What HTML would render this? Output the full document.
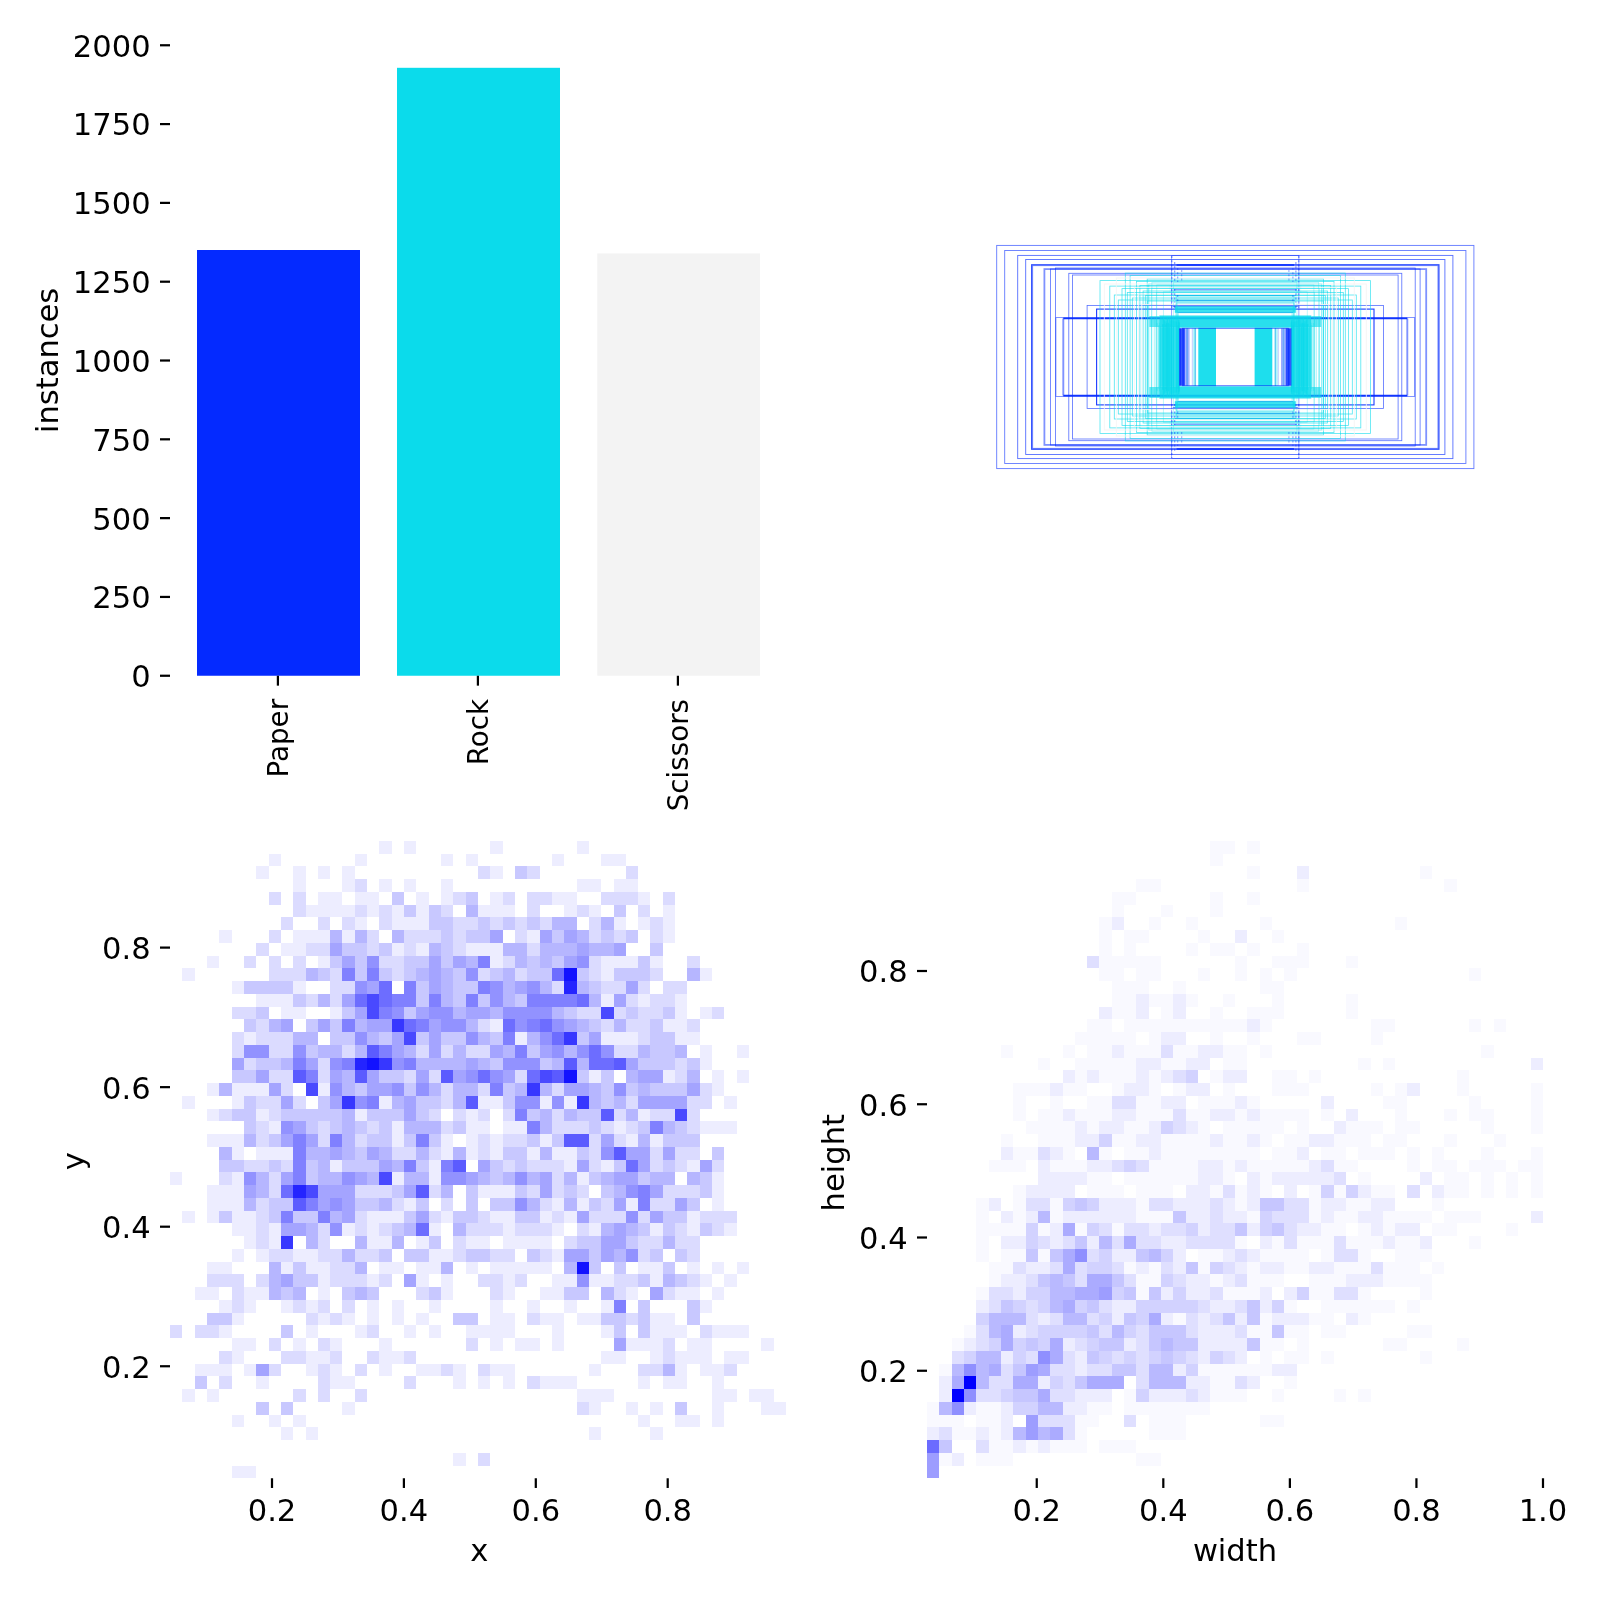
<!DOCTYPE html>
<html lang="en"><head><meta charset="utf-8"><title>labels</title>
<style>html,body{margin:0;padding:0;background:#fff;width:1600px;height:1600px;overflow:hidden}svg{display:block;will-change:transform}text{font-family:"DejaVu Sans", "Liberation Sans", sans-serif;font-size:30.56px;fill:#000}</style></head><body>
<svg width="1600" height="1600" viewBox="0 0 1600 1600">
<rect width="1600" height="1600" fill="#fff"/>
<rect x="197.0" y="250.0" width="163.0" height="425.75" fill="#042aff"/>
<rect x="397.0" y="67.8" width="163.0" height="607.95" fill="#0bdbeb"/>
<rect x="597.3" y="253.4" width="162.7" height="422.35" fill="#f3f3f3"/>
<path d="M160.00 675.75H170.00" stroke="#000" stroke-width="2.22"/>
<text x="150.60" y="687.15" text-anchor="end">0</text>
<path d="M160.00 596.94H170.00" stroke="#000" stroke-width="2.22"/>
<text x="150.60" y="608.34" text-anchor="end">250</text>
<path d="M160.00 518.13H170.00" stroke="#000" stroke-width="2.22"/>
<text x="150.60" y="529.53" text-anchor="end">500</text>
<path d="M160.00 439.32H170.00" stroke="#000" stroke-width="2.22"/>
<text x="150.60" y="450.72" text-anchor="end">750</text>
<path d="M160.00 360.51H170.00" stroke="#000" stroke-width="2.22"/>
<text x="150.60" y="371.91" text-anchor="end">1000</text>
<path d="M160.00 281.70H170.00" stroke="#000" stroke-width="2.22"/>
<text x="150.60" y="293.10" text-anchor="end">1250</text>
<path d="M160.00 202.89H170.00" stroke="#000" stroke-width="2.22"/>
<text x="150.60" y="214.29" text-anchor="end">1500</text>
<path d="M160.00 124.08H170.00" stroke="#000" stroke-width="2.22"/>
<text x="150.60" y="135.48" text-anchor="end">1750</text>
<path d="M160.00 45.27H170.00" stroke="#000" stroke-width="2.22"/>
<text x="150.60" y="56.67" text-anchor="end">2000</text>
<path d="M277.90 675.75V685.65" stroke="#000" stroke-width="2.22"/>
<text x="288.20" y="698.90" text-anchor="end" transform="rotate(-90 288.20 698.90)" style="font-size:27.78px">Paper</text>
<path d="M477.90 675.75V685.65" stroke="#000" stroke-width="2.22"/>
<text x="488.20" y="698.90" text-anchor="end" transform="rotate(-90 488.20 698.90)" style="font-size:27.78px">Rock</text>
<path d="M677.90 675.75V685.65" stroke="#000" stroke-width="2.22"/>
<text x="688.20" y="698.90" text-anchor="end" transform="rotate(-90 688.20 698.90)" style="font-size:27.78px">Scissors</text>
<text x="58.00" y="360.40" text-anchor="middle" transform="rotate(-90 58.00 360.40)">instances</text>
<g fill="none">
<rect x="996.7" y="245.4" width="477.2" height="223.2" stroke="#042aff" stroke-width="0.9" stroke-opacity="0.63"/>
<rect x="1004.7" y="250.5" width="461.2" height="213.0" stroke="#042aff" stroke-width="0.9" stroke-opacity="0.63"/>
<rect x="1017.7" y="255.4" width="435.2" height="203.2" stroke="#042aff" stroke-width="0.9" stroke-opacity="0.68"/>
<rect x="1025.7" y="259.5" width="419.2" height="195.0" stroke="#042aff" stroke-width="0.9" stroke-opacity="0.68"/>
<rect x="1031.7" y="264.8" width="407.2" height="184.4" stroke="#042aff" stroke-width="1.3" stroke-opacity="0.83"/>
<rect x="1032.7" y="265.7" width="405.2" height="182.6" stroke="#042aff" stroke-width="0.8" stroke-opacity="0.58"/>
<rect x="1044.4" y="269.1" width="381.8" height="175.8" stroke="#042aff" stroke-width="1.8" stroke-opacity="0.51"/>
<rect x="1050.5" y="269.0" width="369.6" height="176.0" stroke="#042aff" stroke-width="0.8" stroke-opacity="0.68"/>
<rect x="1055.4" y="268.0" width="359.8" height="178.0" stroke="#042aff" stroke-width="0.8" stroke-opacity="0.68"/>
<rect x="1068.8" y="273.3" width="333.0" height="167.4" stroke="#042aff" stroke-width="0.8" stroke-opacity="0.68"/>
<rect x="1072.5" y="275.0" width="325.6" height="164.0" stroke="#042aff" stroke-width="0.8" stroke-opacity="0.68"/>
<rect x="1087.1" y="305.4" width="296.4" height="103.2" stroke="#042aff" stroke-width="0.8" stroke-opacity="0.68"/>
<rect x="1096.6" y="309.1" width="277.4" height="95.8" stroke="#042aff" stroke-width="1.1" stroke-opacity="0.91"/>
<rect x="1055.9" y="317.6" width="358.8" height="78.8" stroke="#042aff" stroke-width="0.8" stroke-opacity="0.63"/>
<path d="M1063.3 318.4H1407.3" stroke="#042aff" stroke-width="1.7" stroke-opacity="0.95"/>
<path d="M1063.3 395.6H1407.3" stroke="#042aff" stroke-width="1.7" stroke-opacity="0.95"/>
<path d="M1063.3 318.4V395.6" stroke="#042aff" stroke-width="1.9" stroke-opacity="0.51"/>
<path d="M1407.3 318.4V395.6" stroke="#042aff" stroke-width="1.9" stroke-opacity="0.51"/>
<rect x="1171.7" y="255.4" width="127.2" height="203.2" stroke="#042aff" stroke-width="0.7" stroke-opacity="0.58"/>
<path d="M1176.6 265.0H1294.0" stroke="#042aff" stroke-width="1.8" stroke-opacity="0.73"/>
<path d="M1176.6 449.0H1294.0" stroke="#042aff" stroke-width="1.8" stroke-opacity="0.73"/>
<path d="M1173.8 289.8H1296.8" stroke="#042aff" stroke-width="0.9" stroke-opacity="0.73"/>
<path d="M1173.8 424.2H1296.8" stroke="#042aff" stroke-width="0.9" stroke-opacity="0.73"/>
<path d="M1174.8 295.5H1295.8" stroke="#042aff" stroke-width="0.9" stroke-opacity="0.73"/>
<path d="M1174.8 418.5H1295.8" stroke="#042aff" stroke-width="0.9" stroke-opacity="0.73"/>
<path d="M1175.8 300.4H1294.8" stroke="#042aff" stroke-width="0.9" stroke-opacity="0.73"/>
<path d="M1175.8 413.6H1294.8" stroke="#042aff" stroke-width="0.9" stroke-opacity="0.73"/>
<path d="M1172.8 306.4H1297.8" stroke="#042aff" stroke-width="0.9" stroke-opacity="0.73"/>
<path d="M1172.8 407.6H1297.8" stroke="#042aff" stroke-width="0.9" stroke-opacity="0.73"/>
<path d="M1177.5 312.4H1293.1" stroke="#042aff" stroke-width="0.9" stroke-opacity="0.73"/>
<path d="M1177.5 401.6H1293.1" stroke="#042aff" stroke-width="0.9" stroke-opacity="0.73"/>
<rect x="1100.0" y="280.6" width="270.6" height="152.8" stroke="#0bdbeb" stroke-width="0.8" stroke-opacity="0.72"/>
<rect x="1109.8" y="286.1" width="251.0" height="141.8" stroke="#0bdbeb" stroke-width="0.8" stroke-opacity="0.72"/>
<rect x="1122.0" y="288.6" width="226.6" height="136.8" stroke="#0bdbeb" stroke-width="0.8" stroke-opacity="0.72"/>
<rect x="1125.3" y="273.1" width="220.0" height="167.8" stroke="#0bdbeb" stroke-width="0.8" stroke-opacity="0.72"/>
<rect x="1130.1" y="275.6" width="210.4" height="162.8" stroke="#0bdbeb" stroke-width="0.8" stroke-opacity="0.72"/>
<rect x="1136.6" y="281.4" width="197.4" height="151.2" stroke="#0bdbeb" stroke-width="0.8" stroke-opacity="0.72"/>
<rect x="1139.9" y="285.4" width="190.8" height="143.2" stroke="#0bdbeb" stroke-width="0.8" stroke-opacity="0.72"/>
<rect x="1114.3" y="295.0" width="242.0" height="124.0" stroke="#0bdbeb" stroke-width="0.8" stroke-opacity="0.72"/>
<rect x="1118.3" y="300.0" width="234.0" height="114.0" stroke="#0bdbeb" stroke-width="0.8" stroke-opacity="0.72"/>
<rect x="1127.3" y="292.5" width="216.0" height="129.0" stroke="#0bdbeb" stroke-width="0.8" stroke-opacity="0.72"/>
<rect x="1132.3" y="298.0" width="206.0" height="118.0" stroke="#0bdbeb" stroke-width="0.8" stroke-opacity="0.72"/>
<rect x="1143.1" y="291.0" width="184.4" height="132.0" stroke="#0bdbeb" stroke-width="0.8" stroke-opacity="0.72"/>
<rect x="1147.2" y="279.0" width="176.2" height="156.0" stroke="#0bdbeb" stroke-width="0.8" stroke-opacity="0.72"/>
<rect x="1145.3" y="295.5" width="180.0" height="123.0" stroke="#0bdbeb" stroke-width="0.8" stroke-opacity="0.72"/>
<rect x="1147.3" y="301.0" width="176.0" height="112.0" stroke="#0bdbeb" stroke-width="0.8" stroke-opacity="0.72"/>
<rect x="1148.8" y="284.0" width="173.0" height="146.0" stroke="#0bdbeb" stroke-width="0.8" stroke-opacity="0.72"/>
<rect x="1104.3" y="284.0" width="262.0" height="146.0" stroke="#f3f3f3" stroke-width="0.9" stroke-opacity="0.9"/>
<rect x="1116.3" y="278.0" width="238.0" height="158.0" stroke="#f3f3f3" stroke-width="0.9" stroke-opacity="0.9"/>
<rect x="1134.3" y="287.5" width="202.0" height="139.0" stroke="#f3f3f3" stroke-width="0.9" stroke-opacity="0.9"/>
<rect x="1138.3" y="294.0" width="194.0" height="126.0" stroke="#f3f3f3" stroke-width="0.9" stroke-opacity="0.9"/>
<rect x="1141.8" y="304.5" width="187.0" height="105.0" stroke="#f3f3f3" stroke-width="0.9" stroke-opacity="0.9"/>
<rect x="1159.3" y="315.5" width="152.0" height="12.2" fill="#0bdbeb" fill-opacity="0.88" stroke="none"/>
<rect x="1159.3" y="386.3" width="152.0" height="12.2" fill="#0bdbeb" fill-opacity="0.88" stroke="none"/>
<rect x="1149.3" y="316.0" width="10.0" height="11.0" fill="#0bdbeb" fill-opacity="0.62" stroke="none"/>
<rect x="1149.3" y="387.0" width="10.0" height="11.0" fill="#0bdbeb" fill-opacity="0.62" stroke="none"/>
<rect x="1311.3" y="316.0" width="10.0" height="11.0" fill="#0bdbeb" fill-opacity="0.62" stroke="none"/>
<rect x="1311.3" y="387.0" width="10.0" height="11.0" fill="#0bdbeb" fill-opacity="0.62" stroke="none"/>
<rect x="1174.8" y="306.4" width="121.0" height="6.4" fill="#0bdbeb" fill-opacity="0.8" stroke="none"/>
<rect x="1174.8" y="401.2" width="121.0" height="6.4" fill="#0bdbeb" fill-opacity="0.8" stroke="none"/>
<rect x="1174.8" y="295.5" width="121.0" height="7.5" fill="#0bdbeb" fill-opacity="0.24" stroke="none"/>
<rect x="1174.8" y="411.0" width="121.0" height="7.5" fill="#0bdbeb" fill-opacity="0.24" stroke="none"/>
<rect x="1169.3" y="285.0" width="132.0" height="8.0" fill="#0bdbeb" fill-opacity="0.07" stroke="none"/>
<rect x="1169.3" y="421.0" width="132.0" height="8.0" fill="#0bdbeb" fill-opacity="0.07" stroke="none"/>
<rect x="1198.3" y="327.7" width="17.7" height="58.6" fill="#0bdbeb" fill-opacity="0.92" stroke="none"/>
<rect x="1254.6" y="327.7" width="17.7" height="58.6" fill="#0bdbeb" fill-opacity="0.92" stroke="none"/>
<rect x="1159.3" y="327.7" width="20.0" height="58.6" fill="#0bdbeb" fill-opacity="0.72" stroke="none"/>
<rect x="1291.3" y="327.7" width="20.0" height="58.6" fill="#0bdbeb" fill-opacity="0.72" stroke="none"/>
<rect x="1161.3" y="327.7" width="12.0" height="58.6" fill="#0bdbeb" fill-opacity="0.3" stroke="none"/>
<rect x="1297.3" y="327.7" width="12.0" height="58.6" fill="#0bdbeb" fill-opacity="0.3" stroke="none"/>
<path d="M1173.5 326.0V388.0" stroke="#0bdbeb" stroke-width="0.8" stroke-opacity="0.62"/>
<path d="M1297.1 326.0V388.0" stroke="#0bdbeb" stroke-width="0.8" stroke-opacity="0.62"/>
<path d="M1167.1 326.9V387.1" stroke="#0bdbeb" stroke-width="0.8" stroke-opacity="0.62"/>
<path d="M1303.5 326.9V387.1" stroke="#0bdbeb" stroke-width="0.8" stroke-opacity="0.62"/>
<path d="M1169.4 323.7V390.3" stroke="#0bdbeb" stroke-width="0.8" stroke-opacity="0.62"/>
<path d="M1301.2 323.7V390.3" stroke="#0bdbeb" stroke-width="0.8" stroke-opacity="0.62"/>
<path d="M1178.7 322.1V391.9" stroke="#0bdbeb" stroke-width="0.8" stroke-opacity="0.62"/>
<path d="M1291.9 322.1V391.9" stroke="#0bdbeb" stroke-width="0.8" stroke-opacity="0.62"/>
<path d="M1179.1 322.9V391.1" stroke="#0bdbeb" stroke-width="0.8" stroke-opacity="0.62"/>
<path d="M1291.5 322.9V391.1" stroke="#0bdbeb" stroke-width="0.8" stroke-opacity="0.62"/>
<path d="M1178.4 326.7V387.3" stroke="#0bdbeb" stroke-width="0.8" stroke-opacity="0.62"/>
<path d="M1292.2 326.7V387.3" stroke="#0bdbeb" stroke-width="0.8" stroke-opacity="0.62"/>
<path d="M1171.5 318.6V395.4" stroke="#0bdbeb" stroke-width="0.8" stroke-opacity="0.62"/>
<path d="M1299.1 318.6V395.4" stroke="#0bdbeb" stroke-width="0.8" stroke-opacity="0.62"/>
<path d="M1177.4 325.2V388.8" stroke="#0bdbeb" stroke-width="0.8" stroke-opacity="0.62"/>
<path d="M1293.2 325.2V388.8" stroke="#0bdbeb" stroke-width="0.8" stroke-opacity="0.62"/>
<path d="M1167.6 317.3V396.7" stroke="#0bdbeb" stroke-width="0.8" stroke-opacity="0.62"/>
<path d="M1303.0 317.3V396.7" stroke="#0bdbeb" stroke-width="0.8" stroke-opacity="0.62"/>
<path d="M1168.5 323.3V390.7" stroke="#0bdbeb" stroke-width="0.8" stroke-opacity="0.62"/>
<path d="M1302.1 323.3V390.7" stroke="#0bdbeb" stroke-width="0.8" stroke-opacity="0.62"/>
<path d="M1160.8 327.2V386.8" stroke="#0bdbeb" stroke-width="0.8" stroke-opacity="0.62"/>
<path d="M1309.8 327.2V386.8" stroke="#0bdbeb" stroke-width="0.8" stroke-opacity="0.62"/>
<path d="M1163.1 324.5V389.5" stroke="#0bdbeb" stroke-width="0.8" stroke-opacity="0.62"/>
<path d="M1307.5 324.5V389.5" stroke="#0bdbeb" stroke-width="0.8" stroke-opacity="0.62"/>
<path d="M1177.0 326.4V387.6" stroke="#0bdbeb" stroke-width="0.8" stroke-opacity="0.62"/>
<path d="M1293.6 326.4V387.6" stroke="#0bdbeb" stroke-width="0.8" stroke-opacity="0.62"/>
<path d="M1173.8 318.7V395.3" stroke="#0bdbeb" stroke-width="0.8" stroke-opacity="0.62"/>
<path d="M1296.8 318.7V395.3" stroke="#0bdbeb" stroke-width="0.8" stroke-opacity="0.62"/>
<path d="M1176.3 321.3V392.7" stroke="#0bdbeb" stroke-width="0.8" stroke-opacity="0.62"/>
<path d="M1294.3 321.3V392.7" stroke="#0bdbeb" stroke-width="0.8" stroke-opacity="0.62"/>
<path d="M1167.3 323.6V390.4" stroke="#0bdbeb" stroke-width="0.8" stroke-opacity="0.62"/>
<path d="M1303.3 323.6V390.4" stroke="#0bdbeb" stroke-width="0.8" stroke-opacity="0.62"/>
<path d="M1169.1 327.0V387.0" stroke="#0bdbeb" stroke-width="0.8" stroke-opacity="0.62"/>
<path d="M1301.5 327.0V387.0" stroke="#0bdbeb" stroke-width="0.8" stroke-opacity="0.62"/>
<path d="M1178.6 325.4V388.6" stroke="#0bdbeb" stroke-width="0.8" stroke-opacity="0.62"/>
<path d="M1292.0 325.4V388.6" stroke="#0bdbeb" stroke-width="0.8" stroke-opacity="0.62"/>
<path d="M1166.5 323.0V391.0" stroke="#0bdbeb" stroke-width="0.8" stroke-opacity="0.62"/>
<path d="M1304.1 323.0V391.0" stroke="#0bdbeb" stroke-width="0.8" stroke-opacity="0.62"/>
<path d="M1173.7 321.3V392.7" stroke="#0bdbeb" stroke-width="0.8" stroke-opacity="0.62"/>
<path d="M1296.9 321.3V392.7" stroke="#0bdbeb" stroke-width="0.8" stroke-opacity="0.62"/>
<path d="M1171.0 324.4V389.6" stroke="#0bdbeb" stroke-width="0.8" stroke-opacity="0.62"/>
<path d="M1299.6 324.4V389.6" stroke="#0bdbeb" stroke-width="0.8" stroke-opacity="0.62"/>
<path d="M1164.3 320.0V394.0" stroke="#0bdbeb" stroke-width="0.8" stroke-opacity="0.62"/>
<path d="M1306.3 320.0V394.0" stroke="#0bdbeb" stroke-width="0.8" stroke-opacity="0.62"/>
<path d="M1175.0 321.4V392.6" stroke="#0bdbeb" stroke-width="0.8" stroke-opacity="0.62"/>
<path d="M1295.6 321.4V392.6" stroke="#0bdbeb" stroke-width="0.8" stroke-opacity="0.62"/>
<path d="M1169.6 318.1V395.9" stroke="#0bdbeb" stroke-width="0.8" stroke-opacity="0.62"/>
<path d="M1301.0 318.1V395.9" stroke="#0bdbeb" stroke-width="0.8" stroke-opacity="0.62"/>
<path d="M1165.6 324.5V389.5" stroke="#0bdbeb" stroke-width="0.8" stroke-opacity="0.62"/>
<path d="M1305.0 324.5V389.5" stroke="#0bdbeb" stroke-width="0.8" stroke-opacity="0.62"/>
<path d="M1160.7 326.4V387.6" stroke="#0bdbeb" stroke-width="0.8" stroke-opacity="0.62"/>
<path d="M1309.9 326.4V387.6" stroke="#0bdbeb" stroke-width="0.8" stroke-opacity="0.62"/>
<path d="M1171.6 319.4V394.6" stroke="#0bdbeb" stroke-width="0.8" stroke-opacity="0.62"/>
<path d="M1299.0 319.4V394.6" stroke="#0bdbeb" stroke-width="0.8" stroke-opacity="0.62"/>
<path d="M1176.8 322.3V391.7" stroke="#0bdbeb" stroke-width="0.8" stroke-opacity="0.62"/>
<path d="M1293.8 322.3V391.7" stroke="#0bdbeb" stroke-width="0.8" stroke-opacity="0.62"/>
<path d="M1179.0 320.3V393.7" stroke="#0bdbeb" stroke-width="0.8" stroke-opacity="0.62"/>
<path d="M1291.6 320.3V393.7" stroke="#0bdbeb" stroke-width="0.8" stroke-opacity="0.62"/>
<path d="M1164.9 321.4V392.6" stroke="#0bdbeb" stroke-width="0.8" stroke-opacity="0.62"/>
<path d="M1305.7 321.4V392.6" stroke="#0bdbeb" stroke-width="0.8" stroke-opacity="0.62"/>
<path d="M1162.7 324.2V389.8" stroke="#0bdbeb" stroke-width="0.8" stroke-opacity="0.62"/>
<path d="M1307.9 324.2V389.8" stroke="#0bdbeb" stroke-width="0.8" stroke-opacity="0.62"/>
<path d="M1166.2 321.2V392.8" stroke="#0bdbeb" stroke-width="0.8" stroke-opacity="0.62"/>
<path d="M1304.4 321.2V392.8" stroke="#0bdbeb" stroke-width="0.8" stroke-opacity="0.62"/>
<path d="M1168.5 322.7V391.3" stroke="#0bdbeb" stroke-width="0.8" stroke-opacity="0.62"/>
<path d="M1302.1 322.7V391.3" stroke="#0bdbeb" stroke-width="0.8" stroke-opacity="0.62"/>
<path d="M1163.4 317.3V396.7" stroke="#0bdbeb" stroke-width="0.8" stroke-opacity="0.62"/>
<path d="M1307.2 317.3V396.7" stroke="#0bdbeb" stroke-width="0.8" stroke-opacity="0.62"/>
<path d="M1170.6 320.4V393.6" stroke="#0bdbeb" stroke-width="0.8" stroke-opacity="0.62"/>
<path d="M1300.0 320.4V393.6" stroke="#0bdbeb" stroke-width="0.8" stroke-opacity="0.62"/>
<path d="M1178.6 320.0V394.0" stroke="#0bdbeb" stroke-width="0.8" stroke-opacity="0.62"/>
<path d="M1292.0 320.0V394.0" stroke="#0bdbeb" stroke-width="0.8" stroke-opacity="0.62"/>
<path d="M1167.2 316.8V397.2" stroke="#0bdbeb" stroke-width="0.8" stroke-opacity="0.62"/>
<path d="M1303.4 316.8V397.2" stroke="#0bdbeb" stroke-width="0.8" stroke-opacity="0.62"/>
<path d="M1163.8 324.6V389.4" stroke="#0bdbeb" stroke-width="0.8" stroke-opacity="0.62"/>
<path d="M1306.8 324.6V389.4" stroke="#0bdbeb" stroke-width="0.8" stroke-opacity="0.62"/>
<path d="M1172.3 320.3V393.7" stroke="#0bdbeb" stroke-width="0.8" stroke-opacity="0.62"/>
<path d="M1298.3 320.3V393.7" stroke="#0bdbeb" stroke-width="0.8" stroke-opacity="0.62"/>
<path d="M1179.4 322.6V391.4" stroke="#0bdbeb" stroke-width="0.8" stroke-opacity="0.62"/>
<path d="M1291.2 322.6V391.4" stroke="#0bdbeb" stroke-width="0.8" stroke-opacity="0.62"/>
<path d="M1158.5 326.4V387.6" stroke="#0bdbeb" stroke-width="0.75" stroke-opacity="0.45"/>
<path d="M1312.1 326.4V387.6" stroke="#0bdbeb" stroke-width="0.75" stroke-opacity="0.45"/>
<path d="M1159.7 319.2V394.8" stroke="#0bdbeb" stroke-width="0.75" stroke-opacity="0.45"/>
<path d="M1310.9 319.2V394.8" stroke="#0bdbeb" stroke-width="0.75" stroke-opacity="0.45"/>
<path d="M1158.9 325.0V389.0" stroke="#0bdbeb" stroke-width="0.75" stroke-opacity="0.45"/>
<path d="M1311.7 325.0V389.0" stroke="#0bdbeb" stroke-width="0.75" stroke-opacity="0.45"/>
<path d="M1156.0 318.1V395.9" stroke="#0bdbeb" stroke-width="0.75" stroke-opacity="0.45"/>
<path d="M1314.6 318.1V395.9" stroke="#0bdbeb" stroke-width="0.75" stroke-opacity="0.45"/>
<path d="M1159.4 322.8V391.2" stroke="#0bdbeb" stroke-width="0.75" stroke-opacity="0.45"/>
<path d="M1311.2 322.8V391.2" stroke="#0bdbeb" stroke-width="0.75" stroke-opacity="0.45"/>
<path d="M1154.3 318.0V396.0" stroke="#0bdbeb" stroke-width="0.75" stroke-opacity="0.45"/>
<path d="M1316.3 318.0V396.0" stroke="#0bdbeb" stroke-width="0.75" stroke-opacity="0.45"/>
<path d="M1151.3 318.2V395.8" stroke="#0bdbeb" stroke-width="0.75" stroke-opacity="0.45"/>
<path d="M1319.3 318.2V395.8" stroke="#0bdbeb" stroke-width="0.75" stroke-opacity="0.45"/>
<path d="M1157.2 323.1V390.9" stroke="#0bdbeb" stroke-width="0.75" stroke-opacity="0.45"/>
<path d="M1313.4 323.1V390.9" stroke="#0bdbeb" stroke-width="0.75" stroke-opacity="0.45"/>
<path d="M1193.4 328.0V386.0" stroke="#0bdbeb" stroke-width="0.7" stroke-opacity="0.45"/>
<path d="M1277.2 328.0V386.0" stroke="#0bdbeb" stroke-width="0.7" stroke-opacity="0.45"/>
<path d="M1187.6 328.0V386.0" stroke="#0bdbeb" stroke-width="0.7" stroke-opacity="0.45"/>
<path d="M1283.0 328.0V386.0" stroke="#0bdbeb" stroke-width="0.7" stroke-opacity="0.45"/>
<path d="M1186.8 328.0V386.0" stroke="#0bdbeb" stroke-width="0.7" stroke-opacity="0.45"/>
<path d="M1283.8 328.0V386.0" stroke="#0bdbeb" stroke-width="0.7" stroke-opacity="0.45"/>
<path d="M1195.6 328.0V386.0" stroke="#0bdbeb" stroke-width="0.7" stroke-opacity="0.45"/>
<path d="M1275.0 328.0V386.0" stroke="#0bdbeb" stroke-width="0.7" stroke-opacity="0.45"/>
<path d="M1195.4 328.0V386.0" stroke="#0bdbeb" stroke-width="0.7" stroke-opacity="0.45"/>
<path d="M1275.2 328.0V386.0" stroke="#0bdbeb" stroke-width="0.7" stroke-opacity="0.45"/>
<path d="M1194.7 328.0V386.0" stroke="#0bdbeb" stroke-width="0.7" stroke-opacity="0.45"/>
<path d="M1275.9 328.0V386.0" stroke="#0bdbeb" stroke-width="0.7" stroke-opacity="0.45"/>
<path d="M1194.7 328.0V386.0" stroke="#0bdbeb" stroke-width="0.7" stroke-opacity="0.45"/>
<path d="M1275.9 328.0V386.0" stroke="#0bdbeb" stroke-width="0.7" stroke-opacity="0.45"/>
<rect x="1177.1" y="302.4" width="116.3" height="109.2" stroke="#0bdbeb" stroke-width="0.7" stroke-opacity="0.45"/>
<rect x="1178.6" y="312.9" width="113.4" height="88.1" stroke="#0bdbeb" stroke-width="0.7" stroke-opacity="0.45"/>
<rect x="1177.6" y="306.4" width="115.4" height="101.3" stroke="#0bdbeb" stroke-width="0.7" stroke-opacity="0.45"/>
<rect x="1176.6" y="295.8" width="117.4" height="122.3" stroke="#0bdbeb" stroke-width="0.7" stroke-opacity="0.45"/>
<rect x="1175.8" y="303.7" width="119.0" height="106.6" stroke="#0bdbeb" stroke-width="0.7" stroke-opacity="0.45"/>
<rect x="1156.8" y="284.9" width="157.1" height="144.2" stroke="#0bdbeb" stroke-width="0.65" stroke-opacity="0.4"/>
<rect x="1173.7" y="282.2" width="123.2" height="149.6" stroke="#0bdbeb" stroke-width="0.65" stroke-opacity="0.4"/>
<rect x="1151.9" y="282.5" width="166.8" height="149.0" stroke="#0bdbeb" stroke-width="0.65" stroke-opacity="0.4"/>
<rect x="1151.4" y="288.3" width="167.9" height="137.4" stroke="#0bdbeb" stroke-width="0.65" stroke-opacity="0.4"/>
<rect x="1163.3" y="291.8" width="143.9" height="130.5" stroke="#0bdbeb" stroke-width="0.65" stroke-opacity="0.4"/>
<rect x="1156.3" y="292.3" width="158.1" height="129.5" stroke="#0bdbeb" stroke-width="0.65" stroke-opacity="0.4"/>
<rect x="1182.3" y="328.3" width="106.0" height="57.4" stroke="#042aff" stroke-width="0.9" stroke-opacity="0.7"/>
<path d="M1184.3 328.3V385.7" stroke="#042aff" stroke-width="1.0" stroke-opacity="0.88"/>
<path d="M1286.3 328.3V385.7" stroke="#042aff" stroke-width="1.0" stroke-opacity="0.88"/>
<path d="M1183.5 328.3V385.7" stroke="#042aff" stroke-width="1.0" stroke-opacity="0.88"/>
<path d="M1287.1 328.3V385.7" stroke="#042aff" stroke-width="1.0" stroke-opacity="0.88"/>
<path d="M1182.8 328.3V385.7" stroke="#042aff" stroke-width="1.0" stroke-opacity="0.88"/>
<path d="M1287.8 328.3V385.7" stroke="#042aff" stroke-width="1.0" stroke-opacity="0.88"/>
<path d="M1182.0 328.3V385.7" stroke="#042aff" stroke-width="1.0" stroke-opacity="0.88"/>
<path d="M1288.6 328.3V385.7" stroke="#042aff" stroke-width="1.0" stroke-opacity="0.88"/>
<path d="M1181.2 328.3V385.7" stroke="#042aff" stroke-width="1.0" stroke-opacity="0.88"/>
<path d="M1289.4 328.3V385.7" stroke="#042aff" stroke-width="1.0" stroke-opacity="0.88"/>
<path d="M1180.5 328.3V385.7" stroke="#042aff" stroke-width="1.0" stroke-opacity="0.88"/>
<path d="M1290.1 328.3V385.7" stroke="#042aff" stroke-width="1.0" stroke-opacity="0.88"/>
<path d="M1179.7 328.3V385.7" stroke="#042aff" stroke-width="1.0" stroke-opacity="0.88"/>
<path d="M1290.9 328.3V385.7" stroke="#042aff" stroke-width="1.0" stroke-opacity="0.88"/>
<path d="M1189.1 328.3V385.7" stroke="#042aff" stroke-width="0.9" stroke-opacity="0.38"/>
<path d="M1281.5 328.3V385.7" stroke="#042aff" stroke-width="0.9" stroke-opacity="0.38"/>
<path d="M1188.2 328.3V385.7" stroke="#042aff" stroke-width="0.9" stroke-opacity="0.38"/>
<path d="M1282.3 328.3V385.7" stroke="#042aff" stroke-width="0.9" stroke-opacity="0.38"/>
<path d="M1187.4 328.3V385.7" stroke="#042aff" stroke-width="0.9" stroke-opacity="0.38"/>
<path d="M1283.2 328.3V385.7" stroke="#042aff" stroke-width="0.9" stroke-opacity="0.38"/>
<path d="M1186.5 328.3V385.7" stroke="#042aff" stroke-width="0.9" stroke-opacity="0.38"/>
<path d="M1284.0 328.3V385.7" stroke="#042aff" stroke-width="0.9" stroke-opacity="0.38"/>
<path d="M1185.7 328.3V385.7" stroke="#042aff" stroke-width="0.9" stroke-opacity="0.38"/>
<path d="M1284.9 328.3V385.7" stroke="#042aff" stroke-width="0.9" stroke-opacity="0.38"/>
<path d="M1184.8 328.3V385.7" stroke="#042aff" stroke-width="0.9" stroke-opacity="0.38"/>
<path d="M1285.8 328.3V385.7" stroke="#042aff" stroke-width="0.9" stroke-opacity="0.38"/>
<path d="M1192.3 328.3V385.7" stroke="#042aff" stroke-width="0.8" stroke-opacity="0.3"/>
<path d="M1278.3 328.3V385.7" stroke="#042aff" stroke-width="0.8" stroke-opacity="0.3"/>
<path d="M1195.3 328.3V385.7" stroke="#042aff" stroke-width="0.8" stroke-opacity="0.25"/>
<path d="M1275.3 328.3V385.7" stroke="#042aff" stroke-width="0.8" stroke-opacity="0.25"/>
<path d="M1171.8 256.0V282.0" stroke="#042aff" stroke-width="1.1" stroke-opacity="0.55" stroke-dasharray="2 2.2"/>
<path d="M1171.8 432.0V458.0" stroke="#042aff" stroke-width="1.1" stroke-opacity="0.55" stroke-dasharray="2 2.2"/>
<path d="M1171.8 289.0V302.5" stroke="#042aff" stroke-width="1.1" stroke-opacity="0.55" stroke-dasharray="2 2.2"/>
<path d="M1171.8 411.5V425.0" stroke="#042aff" stroke-width="1.1" stroke-opacity="0.55" stroke-dasharray="2 2.2"/>
<path d="M1171.8 306.0V310.0" stroke="#042aff" stroke-width="1.1" stroke-opacity="0.55" stroke-dasharray="2 2.2"/>
<path d="M1171.8 404.0V408.0" stroke="#042aff" stroke-width="1.1" stroke-opacity="0.55" stroke-dasharray="2 2.2"/>
<path d="M1174.7 262.0V282.0" stroke="#042aff" stroke-width="1.1" stroke-opacity="0.5" stroke-dasharray="2 2.2"/>
<path d="M1174.7 432.0V452.0" stroke="#042aff" stroke-width="1.1" stroke-opacity="0.5" stroke-dasharray="2 2.2"/>
<path d="M1174.7 289.0V302.5" stroke="#042aff" stroke-width="1.1" stroke-opacity="0.5" stroke-dasharray="2 2.2"/>
<path d="M1174.7 411.5V425.0" stroke="#042aff" stroke-width="1.1" stroke-opacity="0.5" stroke-dasharray="2 2.2"/>
<path d="M1174.7 306.0V310.0" stroke="#042aff" stroke-width="1.1" stroke-opacity="0.5" stroke-dasharray="2 2.2"/>
<path d="M1174.7 404.0V408.0" stroke="#042aff" stroke-width="1.1" stroke-opacity="0.5" stroke-dasharray="2 2.2"/>
<path d="M1177.7 268.0V282.0" stroke="#042aff" stroke-width="1.1" stroke-opacity="0.45" stroke-dasharray="2 2.2"/>
<path d="M1177.7 432.0V446.0" stroke="#042aff" stroke-width="1.1" stroke-opacity="0.45" stroke-dasharray="2 2.2"/>
<path d="M1177.7 295.0V302.5" stroke="#042aff" stroke-width="1.1" stroke-opacity="0.45" stroke-dasharray="2 2.2"/>
<path d="M1177.7 411.5V419.0" stroke="#042aff" stroke-width="1.1" stroke-opacity="0.45" stroke-dasharray="2 2.2"/>
<path d="M1181.7 270.0V282.0" stroke="#042aff" stroke-width="1.1" stroke-opacity="0.4" stroke-dasharray="2 2.2"/>
<path d="M1181.7 432.0V444.0" stroke="#042aff" stroke-width="1.1" stroke-opacity="0.4" stroke-dasharray="2 2.2"/>
<path d="M1298.8 256.0V282.0" stroke="#042aff" stroke-width="1.1" stroke-opacity="0.55" stroke-dasharray="2 2.2"/>
<path d="M1298.8 432.0V458.0" stroke="#042aff" stroke-width="1.1" stroke-opacity="0.55" stroke-dasharray="2 2.2"/>
<path d="M1298.8 289.0V302.5" stroke="#042aff" stroke-width="1.1" stroke-opacity="0.55" stroke-dasharray="2 2.2"/>
<path d="M1298.8 411.5V425.0" stroke="#042aff" stroke-width="1.1" stroke-opacity="0.55" stroke-dasharray="2 2.2"/>
<path d="M1298.8 306.0V310.0" stroke="#042aff" stroke-width="1.1" stroke-opacity="0.55" stroke-dasharray="2 2.2"/>
<path d="M1298.8 404.0V408.0" stroke="#042aff" stroke-width="1.1" stroke-opacity="0.55" stroke-dasharray="2 2.2"/>
<path d="M1295.9 262.0V282.0" stroke="#042aff" stroke-width="1.1" stroke-opacity="0.5" stroke-dasharray="2 2.2"/>
<path d="M1295.9 432.0V452.0" stroke="#042aff" stroke-width="1.1" stroke-opacity="0.5" stroke-dasharray="2 2.2"/>
<path d="M1295.9 289.0V302.5" stroke="#042aff" stroke-width="1.1" stroke-opacity="0.5" stroke-dasharray="2 2.2"/>
<path d="M1295.9 411.5V425.0" stroke="#042aff" stroke-width="1.1" stroke-opacity="0.5" stroke-dasharray="2 2.2"/>
<path d="M1295.9 306.0V310.0" stroke="#042aff" stroke-width="1.1" stroke-opacity="0.5" stroke-dasharray="2 2.2"/>
<path d="M1295.9 404.0V408.0" stroke="#042aff" stroke-width="1.1" stroke-opacity="0.5" stroke-dasharray="2 2.2"/>
<path d="M1292.9 268.0V282.0" stroke="#042aff" stroke-width="1.1" stroke-opacity="0.45" stroke-dasharray="2 2.2"/>
<path d="M1292.9 432.0V446.0" stroke="#042aff" stroke-width="1.1" stroke-opacity="0.45" stroke-dasharray="2 2.2"/>
<path d="M1292.9 295.0V302.5" stroke="#042aff" stroke-width="1.1" stroke-opacity="0.45" stroke-dasharray="2 2.2"/>
<path d="M1292.9 411.5V419.0" stroke="#042aff" stroke-width="1.1" stroke-opacity="0.45" stroke-dasharray="2 2.2"/>
<path d="M1288.9 270.0V282.0" stroke="#042aff" stroke-width="1.1" stroke-opacity="0.4" stroke-dasharray="2 2.2"/>
<path d="M1288.9 432.0V444.0" stroke="#042aff" stroke-width="1.1" stroke-opacity="0.4" stroke-dasharray="2 2.2"/>
</g>
<g shape-rendering="crispEdges">
<path fill="rgb(237,237,255)" d="M379 841h13v13h-13zM404 841h12v13h-12zM490 841h13v13h-13zM577 841h12v13h-12zM269 854h12v12h-12zM355 854h12v12h-12zM441 854h12v12h-12zM466 854h12v12h-12zM552 854h12v12h-12zM601 854h13v12h-13zM614 854h12v12h-12zM256 866h13v13h-13zM293 866h13v13h-13zM318 866h12v13h-12zM342 866h13v13h-13zM490 866h13v13h-13zM293 879h13v13h-13zM342 879h13v13h-13zM379 879h13v13h-13zM404 879h12v13h-12zM441 879h12v13h-12zM577 879h12v13h-12zM589 879h12v13h-12zM614 879h12v13h-12zM626 879h12v13h-12zM318 892h12v13h-12zM330 892h12v13h-12zM355 892h12v13h-12zM367 892h12v13h-12zM416 892h13v13h-13zM441 892h12v13h-12zM490 892h13v13h-13zM552 892h12v13h-12zM564 892h13v13h-13zM638 892h12v13h-12zM306 905h12v12h-12zM318 905h12v12h-12zM330 905h12v12h-12zM342 905h13v12h-13zM367 905h12v12h-12zM392 905h12v12h-12zM416 905h13v12h-13zM478 905h12v12h-12zM490 905h13v12h-13zM503 905h12v12h-12zM564 905h13v12h-13zM589 905h12v12h-12zM663 905h12v12h-12zM355 917h12v13h-12zM392 917h12v13h-12zM404 917h12v13h-12zM416 917h13v13h-13zM614 917h12v13h-12zM638 917h12v13h-12zM663 917h12v13h-12zM219 930h13v13h-13zM293 930h13v13h-13zM306 930h12v13h-12zM318 930h12v13h-12zM342 930h13v13h-13zM527 930h13v13h-13zM663 930h12v13h-12zM281 943h12v13h-12zM293 943h13v13h-13zM392 943h12v13h-12zM416 943h13v13h-13zM466 943h12v13h-12zM478 943h12v13h-12zM490 943h13v13h-13zM207 956h12v12h-12zM318 956h12v12h-12zM490 956h13v12h-13zM601 956h13v12h-13zM614 956h12v12h-12zM626 956h12v12h-12zM650 956h13v12h-13zM182 968h13v13h-13zM601 968h13v13h-13zM700 968h12v13h-12zM232 981h12v13h-12zM293 981h13v13h-13zM256 994h13v13h-13zM269 994h12v13h-12zM281 994h12v13h-12zM601 994h13v13h-13zM638 994h12v13h-12zM675 994h12v13h-12zM281 1007h12v12h-12zM293 1007h13v12h-13zM330 1007h12v12h-12zM675 1007h12v12h-12zM700 1007h12v12h-12zM490 1019h13v13h-13zM663 1019h12v13h-12zM675 1019h12v13h-12zM244 1032h12v13h-12zM515 1032h12v13h-12zM601 1032h13v13h-13zM614 1032h12v13h-12zM626 1032h12v13h-12zM675 1032h12v13h-12zM687 1032h13v13h-13zM700 1045h12v13h-12zM737 1045h12v13h-12zM700 1058h12v12h-12zM589 1070h12v13h-12zM663 1070h12v13h-12zM712 1070h12v13h-12zM737 1070h12v13h-12zM207 1083h12v13h-12zM232 1083h12v13h-12zM244 1083h12v13h-12zM256 1083h13v13h-13zM318 1083h12v13h-12zM712 1083h12v13h-12zM182 1096h13v13h-13zM232 1096h12v13h-12zM379 1096h13v13h-13zM478 1096h12v13h-12zM490 1096h13v13h-13zM540 1096h12v13h-12zM564 1096h13v13h-13zM724 1096h13v13h-13zM207 1109h12v12h-12zM256 1109h13v12h-13zM355 1109h12v12h-12zM466 1109h12v12h-12zM638 1109h12v12h-12zM269 1121h12v13h-12zM392 1121h12v13h-12zM466 1121h12v13h-12zM478 1121h12v13h-12zM503 1121h12v13h-12zM515 1121h12v13h-12zM614 1121h12v13h-12zM700 1121h12v13h-12zM712 1121h12v13h-12zM724 1121h13v13h-13zM207 1134h12v13h-12zM219 1134h13v13h-13zM232 1134h12v13h-12zM392 1134h12v13h-12zM441 1134h12v13h-12zM466 1134h12v13h-12zM490 1134h13v13h-13zM540 1134h12v13h-12zM626 1134h12v13h-12zM650 1134h13v13h-13zM232 1147h12v13h-12zM256 1147h13v13h-13zM269 1147h12v13h-12zM281 1147h12v13h-12zM441 1147h12v13h-12zM466 1147h12v13h-12zM490 1147h13v13h-13zM527 1147h13v13h-13zM552 1147h12v13h-12zM564 1147h13v13h-13zM330 1160h12v12h-12zM429 1160h12v12h-12zM564 1160h13v12h-13zM601 1160h13v12h-13zM687 1160h13v12h-13zM170 1172h12v13h-12zM232 1172h12v13h-12zM392 1172h12v13h-12zM429 1172h12v13h-12zM577 1172h12v13h-12zM712 1172h12v13h-12zM207 1185h12v13h-12zM219 1185h13v13h-13zM232 1185h12v13h-12zM478 1185h12v13h-12zM490 1185h13v13h-13zM503 1185h12v13h-12zM712 1185h12v13h-12zM207 1198h12v13h-12zM219 1198h13v13h-13zM232 1198h12v13h-12zM404 1198h12v13h-12zM552 1198h12v13h-12zM577 1198h12v13h-12zM626 1198h12v13h-12zM712 1198h12v13h-12zM182 1211h13v12h-13zM207 1211h12v12h-12zM232 1211h12v12h-12zM244 1211h12v12h-12zM367 1211h12v12h-12zM379 1211h13v12h-13zM392 1211h12v12h-12zM441 1211h12v12h-12zM490 1211h13v12h-13zM503 1211h12v12h-12zM540 1211h12v12h-12zM564 1211h13v12h-13zM687 1211h13v12h-13zM232 1223h12v13h-12zM244 1223h12v13h-12zM269 1223h12v13h-12zM342 1223h13v13h-13zM367 1223h12v13h-12zM429 1223h12v13h-12zM503 1223h12v13h-12zM552 1223h12v13h-12zM589 1223h12v13h-12zM650 1223h13v13h-13zM687 1223h13v13h-13zM724 1223h13v13h-13zM244 1236h12v13h-12zM269 1236h12v13h-12zM367 1236h12v13h-12zM379 1236h13v13h-13zM416 1236h13v13h-13zM466 1236h12v13h-12zM478 1236h12v13h-12zM503 1236h12v13h-12zM515 1236h12v13h-12zM527 1236h13v13h-13zM540 1236h12v13h-12zM232 1249h12v13h-12zM256 1249h13v13h-13zM293 1249h13v13h-13zM306 1249h12v13h-12zM429 1249h12v13h-12zM441 1249h12v13h-12zM552 1249h12v13h-12zM207 1262h12v12h-12zM219 1262h13v12h-13zM281 1262h12v12h-12zM306 1262h12v12h-12zM318 1262h12v12h-12zM379 1262h13v12h-13zM392 1262h12v12h-12zM416 1262h13v12h-13zM429 1262h12v12h-12zM466 1262h12v12h-12zM490 1262h13v12h-13zM503 1262h12v12h-12zM515 1262h12v12h-12zM527 1262h13v12h-13zM540 1262h12v12h-12zM638 1262h12v12h-12zM650 1262h13v12h-13zM687 1262h13v12h-13zM712 1262h12v12h-12zM737 1262h12v12h-12zM318 1274h12v13h-12zM367 1274h12v13h-12zM416 1274h13v13h-13zM441 1274h12v13h-12zM503 1274h12v13h-12zM552 1274h12v13h-12zM564 1274h13v13h-13zM589 1274h12v13h-12zM601 1274h13v13h-13zM650 1274h13v13h-13zM700 1274h12v13h-12zM724 1274h13v13h-13zM195 1287h12v13h-12zM207 1287h12v13h-12zM244 1287h12v13h-12zM256 1287h13v13h-13zM318 1287h12v13h-12zM441 1287h12v13h-12zM503 1287h12v13h-12zM540 1287h12v13h-12zM552 1287h12v13h-12zM626 1287h12v13h-12zM675 1287h12v13h-12zM687 1287h13v13h-13zM712 1287h12v13h-12zM219 1300h13v13h-13zM244 1300h12v13h-12zM281 1300h12v13h-12zM306 1300h12v13h-12zM367 1300h12v13h-12zM392 1300h12v13h-12zM429 1300h12v13h-12zM490 1300h13v13h-13zM527 1300h13v13h-13zM564 1300h13v13h-13zM601 1300h13v13h-13zM700 1300h12v13h-12zM232 1313h12v12h-12zM318 1313h12v12h-12zM342 1313h13v12h-13zM367 1313h12v12h-12zM392 1313h12v12h-12zM416 1313h13v12h-13zM490 1313h13v12h-13zM503 1313h12v12h-12zM540 1313h12v12h-12zM552 1313h12v12h-12zM577 1313h12v12h-12zM589 1313h12v12h-12zM650 1313h13v12h-13zM663 1313h12v12h-12zM219 1325h13v13h-13zM306 1325h12v13h-12zM355 1325h12v13h-12zM404 1325h12v13h-12zM429 1325h12v13h-12zM466 1325h12v13h-12zM478 1325h12v13h-12zM490 1325h13v13h-13zM503 1325h12v13h-12zM552 1325h12v13h-12zM601 1325h13v13h-13zM650 1325h13v13h-13zM663 1325h12v13h-12zM675 1325h12v13h-12zM712 1325h12v13h-12zM724 1325h13v13h-13zM737 1325h12v13h-12zM232 1338h12v13h-12zM244 1338h12v13h-12zM293 1338h13v13h-13zM330 1338h12v13h-12zM379 1338h13v13h-13zM490 1338h13v13h-13zM515 1338h12v13h-12zM527 1338h13v13h-13zM552 1338h12v13h-12zM626 1338h12v13h-12zM638 1338h12v13h-12zM650 1338h13v13h-13zM687 1338h13v13h-13zM700 1338h12v13h-12zM761 1338h13v13h-13zM232 1351h12v13h-12zM306 1351h12v13h-12zM318 1351h12v13h-12zM379 1351h13v13h-13zM392 1351h12v13h-12zM601 1351h13v13h-13zM614 1351h12v13h-12zM650 1351h13v13h-13zM675 1351h12v13h-12zM687 1351h13v13h-13zM700 1351h12v13h-12zM724 1351h13v13h-13zM737 1351h12v13h-12zM195 1364h12v12h-12zM207 1364h12v12h-12zM219 1364h13v12h-13zM244 1364h12v12h-12zM306 1364h12v12h-12zM330 1364h12v12h-12zM379 1364h13v12h-13zM416 1364h13v12h-13zM429 1364h12v12h-12zM453 1364h13v12h-13zM490 1364h13v12h-13zM503 1364h12v12h-12zM589 1364h12v12h-12zM675 1364h12v12h-12zM700 1364h12v12h-12zM712 1364h12v12h-12zM256 1376h13v13h-13zM330 1376h12v13h-12zM342 1376h13v13h-13zM453 1376h13v13h-13zM478 1376h12v13h-12zM503 1376h12v13h-12zM540 1376h12v13h-12zM552 1376h12v13h-12zM564 1376h13v13h-13zM638 1376h12v13h-12zM663 1376h12v13h-12zM675 1376h12v13h-12zM712 1376h12v13h-12zM182 1389h13v13h-13zM207 1389h12v13h-12zM577 1389h12v13h-12zM589 1389h12v13h-12zM601 1389h13v13h-13zM712 1389h12v13h-12zM724 1389h13v13h-13zM749 1389h12v13h-12zM761 1389h13v13h-13zM342 1402h13v13h-13zM589 1402h12v13h-12zM626 1402h12v13h-12zM650 1402h13v13h-13zM712 1402h12v13h-12zM761 1402h13v13h-13zM774 1402h12v13h-12zM232 1415h12v12h-12zM269 1415h12v12h-12zM293 1415h13v12h-13zM638 1415h12v12h-12zM675 1415h12v12h-12zM687 1415h13v12h-13zM712 1415h12v12h-12zM281 1427h12v13h-12zM306 1427h12v13h-12zM589 1427h12v13h-12zM650 1427h13v13h-13zM453 1453h13v13h-13zM232 1466h12v12h-12zM244 1466h12v12h-12z"/>
<path fill="rgb(219,219,255)" d="M478 866h12v13h-12zM527 866h13v13h-13zM626 866h12v13h-12zM355 879h12v13h-12zM269 892h12v13h-12zM293 892h13v13h-13zM453 892h13v13h-13zM503 892h12v13h-12zM527 892h13v13h-13zM540 892h12v13h-12zM601 892h13v13h-13zM614 892h12v13h-12zM626 892h12v13h-12zM663 892h12v13h-12zM293 905h13v12h-13zM355 905h12v12h-12zM379 905h13v12h-13zM441 905h12v12h-12zM527 905h13v12h-13zM577 905h12v12h-12zM638 905h12v12h-12zM281 917h12v13h-12zM318 917h12v13h-12zM342 917h13v13h-13zM379 917h13v13h-13zM453 917h13v13h-13zM466 917h12v13h-12zM490 917h13v13h-13zM515 917h12v13h-12zM540 917h12v13h-12zM589 917h12v13h-12zM650 917h13v13h-13zM269 930h12v13h-12zM367 930h12v13h-12zM404 930h12v13h-12zM416 930h13v13h-13zM429 930h12v13h-12zM453 930h13v13h-13zM515 930h12v13h-12zM589 930h12v13h-12zM614 930h12v13h-12zM650 930h13v13h-13zM256 943h13v13h-13zM306 943h12v13h-12zM318 943h12v13h-12zM367 943h12v13h-12zM404 943h12v13h-12zM453 943h13v13h-13zM527 943h13v13h-13zM244 956h12v12h-12zM269 956h12v12h-12zM293 956h13v12h-13zM379 956h13v12h-13zM392 956h12v12h-12zM503 956h12v12h-12zM589 956h12v12h-12zM687 956h13v12h-13zM269 968h12v13h-12zM281 968h12v13h-12zM293 968h13v13h-13zM330 968h12v13h-12zM392 968h12v13h-12zM478 968h12v13h-12zM515 968h12v13h-12zM589 968h12v13h-12zM650 968h13v13h-13zM330 981h12v13h-12zM342 981h13v13h-13zM552 981h12v13h-12zM601 981h13v13h-13zM614 981h12v13h-12zM638 981h12v13h-12zM663 981h12v13h-12zM675 981h12v13h-12zM306 994h12v13h-12zM330 994h12v13h-12zM626 994h12v13h-12zM650 994h13v13h-13zM663 994h12v13h-12zM232 1007h12v12h-12zM244 1007h12v12h-12zM577 1007h12v12h-12zM589 1007h12v12h-12zM614 1007h12v12h-12zM638 1007h12v12h-12zM650 1007h13v12h-13zM712 1007h12v12h-12zM256 1019h13v13h-13zM478 1019h12v13h-12zM601 1019h13v13h-13zM626 1019h12v13h-12zM638 1019h12v13h-12zM687 1019h13v13h-13zM232 1032h12v13h-12zM256 1032h13v13h-13zM269 1032h12v13h-12zM281 1032h12v13h-12zM638 1032h12v13h-12zM232 1045h12v13h-12zM269 1045h12v13h-12zM281 1045h12v13h-12zM342 1045h13v13h-13zM416 1045h13v13h-13zM441 1045h12v13h-12zM466 1045h12v13h-12zM478 1045h12v13h-12zM614 1045h12v13h-12zM626 1045h12v13h-12zM244 1058h12v12h-12zM318 1058h12v12h-12zM675 1058h12v12h-12zM269 1070h12v13h-12zM281 1070h12v13h-12zM318 1070h12v13h-12zM404 1070h12v13h-12zM429 1070h12v13h-12zM515 1070h12v13h-12zM675 1070h12v13h-12zM281 1083h12v13h-12zM441 1083h12v13h-12zM478 1083h12v13h-12zM552 1083h12v13h-12zM700 1083h12v13h-12zM256 1096h13v13h-13zM269 1096h12v13h-12zM293 1096h13v13h-13zM441 1096h12v13h-12zM626 1096h12v13h-12zM687 1096h13v13h-13zM700 1096h12v13h-12zM219 1109h13v12h-13zM269 1109h12v12h-12zM429 1109h12v12h-12zM453 1109h13v12h-13zM478 1109h12v12h-12zM503 1109h12v12h-12zM552 1109h12v12h-12zM614 1109h12v12h-12zM650 1109h13v12h-13zM663 1109h12v12h-12zM687 1109h13v12h-13zM256 1121h13v13h-13zM318 1121h12v13h-12zM367 1121h12v13h-12zM441 1121h12v13h-12zM552 1121h12v13h-12zM564 1121h13v13h-13zM577 1121h12v13h-12zM601 1121h13v13h-13zM626 1121h12v13h-12zM687 1121h13v13h-13zM256 1134h13v13h-13zM318 1134h12v13h-12zM355 1134h12v13h-12zM478 1134h12v13h-12zM503 1134h12v13h-12zM515 1134h12v13h-12zM589 1134h12v13h-12zM614 1134h12v13h-12zM392 1147h12v13h-12zM404 1147h12v13h-12zM429 1147h12v13h-12zM478 1147h12v13h-12zM589 1147h12v13h-12zM650 1147h13v13h-13zM675 1147h12v13h-12zM687 1147h13v13h-13zM244 1160h12v12h-12zM256 1160h13v12h-13zM281 1160h12v12h-12zM503 1160h12v12h-12zM527 1160h13v12h-13zM540 1160h12v12h-12zM552 1160h12v12h-12zM589 1160h12v12h-12zM650 1160h13v12h-13zM675 1160h12v12h-12zM712 1160h12v12h-12zM219 1172h13v13h-13zM269 1172h12v13h-12zM552 1172h12v13h-12zM269 1185h12v13h-12zM355 1185h12v13h-12zM367 1185h12v13h-12zM379 1185h13v13h-13zM429 1185h12v13h-12zM527 1185h13v13h-13zM552 1185h12v13h-12zM577 1185h12v13h-12zM663 1185h12v13h-12zM675 1185h12v13h-12zM687 1185h13v13h-13zM256 1198h13v13h-13zM392 1198h12v13h-12zM441 1198h12v13h-12zM540 1198h12v13h-12zM601 1198h13v13h-13zM650 1198h13v13h-13zM663 1198h12v13h-12zM256 1211h13v12h-13zM355 1211h12v12h-12zM429 1211h12v12h-12zM478 1211h12v12h-12zM552 1211h12v12h-12zM589 1211h12v12h-12zM601 1211h13v12h-13zM614 1211h12v12h-12zM638 1211h12v12h-12zM700 1211h12v12h-12zM712 1211h12v12h-12zM724 1211h13v12h-13zM256 1223h13v13h-13zM318 1223h12v13h-12zM355 1223h12v13h-12zM379 1223h13v13h-13zM466 1223h12v13h-12zM478 1223h12v13h-12zM490 1223h13v13h-13zM515 1223h12v13h-12zM527 1223h13v13h-13zM540 1223h12v13h-12zM577 1223h12v13h-12zM675 1223h12v13h-12zM712 1223h12v13h-12zM256 1236h13v13h-13zM318 1236h12v13h-12zM453 1236h13v13h-13zM564 1236h13v13h-13zM638 1236h12v13h-12zM650 1236h13v13h-13zM675 1236h12v13h-12zM687 1236h13v13h-13zM269 1249h12v13h-12zM281 1249h12v13h-12zM318 1249h12v13h-12zM330 1249h12v13h-12zM355 1249h12v13h-12zM367 1249h12v13h-12zM453 1249h13v13h-13zM490 1249h13v13h-13zM503 1249h12v13h-12zM540 1249h12v13h-12zM638 1249h12v13h-12zM687 1249h13v13h-13zM330 1262h12v12h-12zM342 1262h13v12h-13zM207 1274h12v13h-12zM219 1274h13v13h-13zM232 1274h12v13h-12zM256 1274h13v13h-13zM330 1274h12v13h-12zM342 1274h13v13h-13zM355 1274h12v13h-12zM379 1274h13v13h-13zM478 1274h12v13h-12zM490 1274h13v13h-13zM515 1274h12v13h-12zM614 1274h12v13h-12zM626 1274h12v13h-12zM687 1274h13v13h-13zM232 1287h12v13h-12zM416 1287h13v13h-13zM490 1287h13v13h-13zM614 1287h12v13h-12zM663 1287h12v13h-12zM232 1300h12v13h-12zM293 1300h13v13h-13zM318 1300h12v13h-12zM342 1300h13v13h-13zM306 1313h12v12h-12zM330 1313h12v12h-12zM527 1313h13v12h-13zM626 1313h12v12h-12zM170 1325h12v13h-12zM195 1325h12v13h-12zM207 1325h12v13h-12zM367 1325h12v13h-12zM700 1325h12v13h-12zM269 1338h12v13h-12zM318 1338h12v13h-12zM466 1338h12v13h-12zM663 1338h12v13h-12zM219 1351h13v13h-13zM281 1351h12v13h-12zM293 1351h13v13h-13zM330 1351h12v13h-12zM367 1351h12v13h-12zM404 1351h12v13h-12zM663 1351h12v13h-12zM269 1364h12v12h-12zM318 1364h12v12h-12zM355 1364h12v12h-12zM441 1364h12v12h-12zM478 1364h12v12h-12zM638 1364h12v12h-12zM650 1364h13v12h-13zM724 1364h13v12h-13zM219 1376h13v13h-13zM318 1376h12v13h-12zM404 1376h12v13h-12zM527 1376h13v13h-13zM293 1389h13v13h-13zM318 1389h12v13h-12zM355 1389h12v13h-12zM577 1402h12v13h-12zM478 1453h12v13h-12z"/>
<path fill="rgb(200,200,255)" d="M515 866h12v13h-12zM392 892h12v13h-12zM466 892h12v13h-12zM404 905h12v12h-12zM429 905h12v12h-12zM614 905h12v12h-12zM429 917h12v13h-12zM441 917h12v13h-12zM478 917h12v13h-12zM503 917h12v13h-12zM527 917h13v13h-13zM441 930h12v13h-12zM466 930h12v13h-12zM478 930h12v13h-12zM552 930h12v13h-12zM601 930h13v13h-13zM626 930h12v13h-12zM342 943h13v13h-13zM355 943h12v13h-12zM379 943h13v13h-13zM441 943h12v13h-12zM650 943h13v13h-13zM330 956h12v12h-12zM355 956h12v12h-12zM404 956h12v12h-12zM416 956h13v12h-13zM441 956h12v12h-12zM527 956h13v12h-13zM552 956h12v12h-12zM638 956h12v12h-12zM318 968h12v13h-12zM355 968h12v13h-12zM379 968h13v13h-13zM404 968h12v13h-12zM453 968h13v13h-13zM490 968h13v13h-13zM527 968h13v13h-13zM540 968h12v13h-12zM577 968h12v13h-12zM614 968h12v13h-12zM626 968h12v13h-12zM638 968h12v13h-12zM244 981h12v13h-12zM256 981h13v13h-13zM269 981h12v13h-12zM281 981h12v13h-12zM416 981h13v13h-13zM453 981h13v13h-13zM466 981h12v13h-12zM589 981h12v13h-12zM293 994h13v13h-13zM416 994h13v13h-13zM453 994h13v13h-13zM478 994h12v13h-12zM515 994h12v13h-12zM256 1007h13v12h-13zM342 1007h13v12h-13zM404 1007h12v12h-12zM564 1007h13v12h-13zM626 1007h12v12h-12zM663 1007h12v12h-12zM244 1019h12v13h-12zM306 1019h12v13h-12zM330 1019h12v13h-12zM589 1019h12v13h-12zM650 1019h13v13h-13zM330 1032h12v13h-12zM342 1032h13v13h-13zM379 1032h13v13h-13zM416 1032h13v13h-13zM441 1032h12v13h-12zM453 1032h13v13h-13zM490 1032h13v13h-13zM577 1032h12v13h-12zM650 1032h13v13h-13zM663 1032h12v13h-12zM306 1045h12v13h-12zM527 1045h13v13h-13zM650 1045h13v13h-13zM663 1045h12v13h-12zM256 1058h13v12h-13zM269 1058h12v12h-12zM490 1058h13v12h-13zM540 1058h12v12h-12zM638 1058h12v12h-12zM650 1058h13v12h-13zM663 1058h12v12h-12zM687 1058h13v12h-13zM232 1070h12v13h-12zM244 1070h12v13h-12zM379 1070h13v13h-13zM392 1070h12v13h-12zM577 1070h12v13h-12zM601 1070h13v13h-13zM355 1083h12v13h-12zM404 1083h12v13h-12zM503 1083h12v13h-12zM601 1083h13v13h-13zM626 1083h12v13h-12zM650 1083h13v13h-13zM663 1083h12v13h-12zM675 1083h12v13h-12zM244 1096h12v13h-12zM318 1096h12v13h-12zM416 1096h13v13h-13zM429 1096h12v13h-12zM503 1096h12v13h-12zM601 1096h13v13h-13zM232 1109h12v12h-12zM244 1109h12v12h-12zM281 1109h12v12h-12zM293 1109h13v12h-13zM306 1109h12v12h-12zM318 1109h12v12h-12zM330 1109h12v12h-12zM367 1109h12v12h-12zM379 1109h13v12h-13zM392 1109h12v12h-12zM416 1109h13v12h-13zM527 1109h13v12h-13zM577 1109h12v12h-12zM589 1109h12v12h-12zM244 1121h12v13h-12zM306 1121h12v13h-12zM330 1121h12v13h-12zM355 1121h12v13h-12zM379 1121h13v13h-13zM453 1121h13v13h-13zM589 1121h12v13h-12zM638 1121h12v13h-12zM675 1121h12v13h-12zM269 1134h12v13h-12zM367 1134h12v13h-12zM379 1134h13v13h-13zM404 1134h12v13h-12zM429 1134h12v13h-12zM527 1134h13v13h-13zM552 1134h12v13h-12zM663 1134h12v13h-12zM675 1134h12v13h-12zM687 1134h13v13h-13zM355 1147h12v13h-12zM503 1147h12v13h-12zM515 1147h12v13h-12zM577 1147h12v13h-12zM712 1147h12v13h-12zM219 1160h13v12h-13zM232 1160h12v12h-12zM269 1160h12v12h-12zM306 1160h12v12h-12zM342 1160h13v12h-13zM355 1160h12v12h-12zM367 1160h12v12h-12zM416 1160h13v12h-13zM490 1160h13v12h-13zM515 1160h12v12h-12zM614 1160h12v12h-12zM663 1160h12v12h-12zM306 1172h12v13h-12zM490 1172h13v13h-13zM589 1172h12v13h-12zM638 1172h12v13h-12zM700 1172h12v13h-12zM392 1185h12v13h-12zM466 1185h12v13h-12zM515 1185h12v13h-12zM564 1185h13v13h-13zM601 1185h13v13h-13zM700 1185h12v13h-12zM269 1198h12v13h-12zM281 1198h12v13h-12zM355 1198h12v13h-12zM367 1198h12v13h-12zM416 1198h13v13h-13zM466 1198h12v13h-12zM490 1198h13v13h-13zM503 1198h12v13h-12zM589 1198h12v13h-12zM687 1198h13v13h-13zM219 1211h13v12h-13zM269 1211h12v12h-12zM293 1211h13v12h-13zM306 1211h12v12h-12zM404 1211h12v12h-12zM453 1211h13v12h-13zM466 1211h12v12h-12zM515 1211h12v12h-12zM527 1211h13v12h-13zM663 1211h12v12h-12zM675 1211h12v12h-12zM392 1223h12v13h-12zM638 1223h12v13h-12zM663 1223h12v13h-12zM700 1223h12v13h-12zM429 1236h12v13h-12zM577 1236h12v13h-12zM589 1236h12v13h-12zM626 1236h12v13h-12zM379 1249h13v13h-13zM404 1249h12v13h-12zM416 1249h13v13h-13zM466 1249h12v13h-12zM478 1249h12v13h-12zM527 1249h13v13h-13zM589 1249h12v13h-12zM650 1249h13v13h-13zM675 1249h12v13h-12zM293 1262h13v12h-13zM589 1262h12v12h-12zM614 1262h12v12h-12zM663 1262h12v12h-12zM293 1274h13v13h-13zM306 1274h12v13h-12zM638 1274h12v13h-12zM675 1274h12v13h-12zM281 1287h12v13h-12zM342 1287h13v13h-13zM367 1287h12v13h-12zM429 1287h12v13h-12zM564 1287h13v13h-13zM577 1287h12v13h-12zM638 1300h12v13h-12zM687 1300h13v13h-13zM207 1313h12v12h-12zM219 1313h13v12h-13zM453 1313h13v12h-13zM466 1313h12v12h-12zM601 1313h13v12h-13zM614 1313h12v12h-12zM638 1313h12v12h-12zM687 1313h13v12h-13zM281 1325h12v13h-12zM614 1325h12v13h-12zM638 1325h12v13h-12zM195 1376h12v13h-12zM256 1402h13v13h-13zM281 1402h12v13h-12zM675 1402h12v13h-12z"/>
<path fill="rgb(182,182,255)" d="M466 905h12v12h-12zM552 917h12v13h-12zM564 917h13v13h-13zM601 917h13v13h-13zM330 930h12v13h-12zM355 930h12v13h-12zM392 930h12v13h-12zM577 930h12v13h-12zM429 943h12v13h-12zM503 943h12v13h-12zM515 943h12v13h-12zM540 943h12v13h-12zM552 943h12v13h-12zM564 943h13v13h-13zM589 943h12v13h-12zM601 943h13v13h-13zM466 956h12v12h-12zM515 956h12v12h-12zM540 956h12v12h-12zM306 968h12v13h-12zM416 968h13v13h-13zM441 968h12v13h-12zM503 968h12v13h-12zM687 968h13v13h-13zM441 981h12v13h-12zM503 981h12v13h-12zM540 981h12v13h-12zM577 981h12v13h-12zM318 994h12v13h-12zM441 994h12v13h-12zM503 994h12v13h-12zM589 994h12v13h-12zM453 1007h13v12h-13zM490 1007h13v12h-13zM552 1007h12v12h-12zM269 1019h12v13h-12zM355 1019h12v13h-12zM466 1019h12v13h-12zM577 1019h12v13h-12zM614 1019h12v13h-12zM293 1032h13v13h-13zM306 1032h12v13h-12zM367 1032h12v13h-12zM478 1032h12v13h-12zM527 1032h13v13h-13zM318 1045h12v13h-12zM330 1045h12v13h-12zM355 1045h12v13h-12zM404 1045h12v13h-12zM453 1045h13v13h-13zM503 1045h12v13h-12zM564 1045h13v13h-13zM638 1045h12v13h-12zM675 1045h12v13h-12zM281 1058h12v12h-12zM416 1058h13v12h-13zM429 1058h12v12h-12zM441 1058h12v12h-12zM453 1058h13v12h-13zM478 1058h12v12h-12zM552 1058h12v12h-12zM577 1058h12v12h-12zM342 1070h13v13h-13zM626 1070h12v13h-12zM687 1070h13v13h-13zM219 1083h13v13h-13zM342 1083h13v13h-13zM429 1083h12v13h-12zM453 1083h13v13h-13zM466 1083h12v13h-12zM515 1083h12v13h-12zM540 1083h12v13h-12zM589 1083h12v13h-12zM638 1083h12v13h-12zM392 1096h12v13h-12zM453 1096h13v13h-13zM589 1096h12v13h-12zM614 1096h12v13h-12zM342 1109h13v12h-13zM540 1109h12v12h-12zM564 1109h13v12h-13zM626 1109h12v12h-12zM342 1121h13v13h-13zM404 1121h12v13h-12zM416 1121h13v13h-13zM429 1121h12v13h-12zM540 1121h12v13h-12zM663 1121h12v13h-12zM244 1134h12v13h-12zM342 1134h13v13h-13zM638 1134h12v13h-12zM219 1147h13v13h-13zM306 1147h12v13h-12zM318 1147h12v13h-12zM342 1147h13v13h-13zM379 1147h13v13h-13zM416 1147h13v13h-13zM453 1147h13v13h-13zM540 1147h12v13h-12zM318 1160h12v12h-12zM392 1160h12v12h-12zM256 1172h13v13h-13zM318 1172h12v13h-12zM330 1172h12v13h-12zM367 1172h12v13h-12zM404 1172h12v13h-12zM416 1172h13v13h-13zM478 1172h12v13h-12zM503 1172h12v13h-12zM527 1172h13v13h-13zM564 1172h13v13h-13zM601 1172h13v13h-13zM650 1172h13v13h-13zM663 1172h12v13h-12zM687 1172h13v13h-13zM256 1185h13v13h-13zM441 1185h12v13h-12zM614 1185h12v13h-12zM244 1198h12v13h-12zM379 1198h13v13h-13zM527 1198h13v13h-13zM564 1198h13v13h-13zM330 1211h12v12h-12zM306 1223h12v13h-12zM404 1223h12v13h-12zM453 1223h13v13h-13zM601 1223h13v13h-13zM626 1223h12v13h-12zM306 1236h12v13h-12zM355 1236h12v13h-12zM392 1236h12v13h-12zM663 1236h12v13h-12zM342 1249h13v13h-13zM614 1249h12v13h-12zM269 1262h12v12h-12zM355 1262h12v12h-12zM441 1262h12v12h-12zM564 1262h13v12h-13zM269 1274h12v13h-12zM663 1274h12v13h-12zM269 1287h12v13h-12zM293 1287h13v13h-13zM355 1287h12v13h-12zM601 1287h13v13h-13zM663 1364h12v12h-12z"/>
<path fill="rgb(164,164,255)" d="M490 930h13v13h-13zM540 930h12v13h-12zM564 930h13v13h-13zM330 943h12v13h-12zM577 943h12v13h-12zM614 943h12v13h-12zM342 956h13v12h-13zM429 956h12v12h-12zM453 956h13v12h-13zM564 956h13v12h-13zM429 968h12v13h-12zM367 981h12v13h-12zM429 981h12v13h-12zM515 981h12v13h-12zM626 981h12v13h-12zM342 994h13v13h-13zM614 994h12v13h-12zM355 1007h12v12h-12zM416 1007h13v12h-13zM466 1007h12v12h-12zM478 1007h12v12h-12zM281 1019h12v13h-12zM318 1019h12v13h-12zM367 1019h12v13h-12zM379 1019h13v13h-13zM429 1019h12v13h-12zM564 1019h13v13h-13zM392 1032h12v13h-12zM429 1032h12v13h-12zM589 1032h12v13h-12zM392 1045h12v13h-12zM429 1045h12v13h-12zM490 1045h13v13h-13zM540 1045h12v13h-12zM232 1058h12v12h-12zM306 1058h12v12h-12zM466 1058h12v12h-12zM626 1058h12v12h-12zM256 1070h13v13h-13zM330 1070h12v13h-12zM367 1070h12v13h-12zM416 1070h13v13h-13zM453 1070h13v13h-13zM503 1070h12v13h-12zM638 1070h12v13h-12zM650 1070h13v13h-13zM269 1083h12v13h-12zM367 1083h12v13h-12zM379 1083h13v13h-13zM564 1083h13v13h-13zM577 1083h12v13h-12zM687 1083h13v13h-13zM281 1096h12v13h-12zM330 1096h12v13h-12zM404 1096h12v13h-12zM638 1096h12v13h-12zM650 1096h13v13h-13zM663 1096h12v13h-12zM675 1096h12v13h-12zM404 1109h12v12h-12zM293 1121h13v13h-13zM281 1134h12v13h-12zM306 1134h12v13h-12zM601 1134h13v13h-13zM330 1147h12v13h-12zM367 1147h12v13h-12zM626 1147h12v13h-12zM638 1147h12v13h-12zM663 1147h12v13h-12zM379 1160h13v12h-13zM478 1160h12v12h-12zM577 1160h12v12h-12zM638 1160h12v12h-12zM700 1160h12v12h-12zM281 1172h12v13h-12zM355 1172h12v13h-12zM466 1172h12v13h-12zM540 1172h12v13h-12zM614 1172h12v13h-12zM626 1172h12v13h-12zM244 1185h12v13h-12zM318 1185h12v13h-12zM330 1185h12v13h-12zM342 1185h13v13h-13zM404 1185h12v13h-12zM540 1185h12v13h-12zM650 1185h13v13h-13zM318 1198h12v13h-12zM342 1198h13v13h-13zM614 1198h12v13h-12zM675 1198h12v13h-12zM342 1211h13v12h-13zM416 1211h13v12h-13zM577 1211h12v12h-12zM650 1211h13v12h-13zM281 1223h12v13h-12zM293 1223h13v13h-13zM614 1223h12v13h-12zM601 1236h13v13h-13zM614 1236h12v13h-12zM564 1249h13v13h-13zM577 1249h12v13h-12zM601 1249h13v13h-13zM281 1274h12v13h-12zM404 1274h12v13h-12zM650 1287h13v13h-13zM614 1338h12v13h-12zM256 1364h13v12h-13z"/>
<path fill="rgb(146,146,255)" d="M367 956h12v12h-12zM577 956h12v12h-12zM466 968h12v13h-12zM355 981h12v13h-12zM490 981h13v13h-13zM527 981h13v13h-13zM490 994h13v13h-13zM392 1007h12v12h-12zM429 1007h12v12h-12zM441 1007h12v12h-12zM503 1007h12v12h-12zM515 1007h12v12h-12zM527 1007h13v12h-13zM540 1007h12v12h-12zM441 1019h12v13h-12zM453 1019h13v13h-13zM515 1019h12v13h-12zM552 1019h12v13h-12zM355 1032h12v13h-12zM466 1032h12v13h-12zM540 1032h12v13h-12zM244 1045h12v13h-12zM256 1045h13v13h-13zM293 1045h13v13h-13zM552 1045h12v13h-12zM577 1045h12v13h-12zM601 1045h13v13h-13zM330 1058h12v12h-12zM392 1058h12v12h-12zM503 1058h12v12h-12zM515 1058h12v12h-12zM527 1058h13v12h-13zM466 1070h12v13h-12zM490 1070h13v13h-13zM330 1083h12v13h-12zM392 1083h12v13h-12zM416 1083h13v13h-13zM614 1083h12v13h-12zM355 1096h12v13h-12zM515 1096h12v13h-12zM527 1096h13v13h-13zM552 1096h12v13h-12zM281 1121h12v13h-12zM601 1147h13v13h-13zM244 1172h12v13h-12zM342 1172h13v13h-13zM441 1172h12v13h-12zM453 1172h13v13h-13zM515 1172h12v13h-12zM626 1185h12v13h-12zM330 1198h12v13h-12zM515 1198h12v13h-12zM626 1211h12v12h-12zM330 1223h12v13h-12zM626 1249h12v13h-12zM577 1274h12v13h-12z"/>
<path fill="rgb(128,128,255)" d="M478 956h12v12h-12zM342 968h13v13h-13zM367 968h12v13h-12zM404 981h12v13h-12zM478 981h12v13h-12zM392 994h12v13h-12zM404 994h12v13h-12zM429 994h12v13h-12zM466 994h12v13h-12zM527 994h13v13h-13zM540 994h12v13h-12zM552 994h12v13h-12zM564 994h13v13h-13zM379 1007h13v12h-13zM342 1019h13v13h-13zM416 1019h13v13h-13zM527 1019h13v13h-13zM503 1032h12v13h-12zM379 1045h13v13h-13zM515 1045h12v13h-12zM293 1058h13v12h-13zM342 1058h13v12h-13zM404 1058h12v12h-12zM306 1070h12v13h-12zM490 1083h13v13h-13zM367 1096h12v13h-12zM515 1109h12v12h-12zM527 1121h13v13h-13zM650 1121h13v13h-13zM293 1134h13v13h-13zM330 1134h12v13h-12zM416 1134h13v13h-13zM293 1147h13v13h-13zM293 1160h13v12h-13zM404 1160h12v12h-12zM441 1160h12v12h-12zM293 1172h13v13h-13zM638 1185h12v13h-12zM306 1198h12v13h-12zM638 1198h12v13h-12zM281 1211h12v12h-12zM318 1211h12v12h-12zM614 1300h12v13h-12z"/>
<path fill="rgb(109,109,255)" d="M552 968h12v13h-12zM379 981h13v13h-13zM355 994h12v13h-12zM379 994h13v13h-13zM577 994h12v13h-12zM404 1019h12v13h-12zM503 1019h12v13h-12zM540 1019h12v13h-12zM552 1032h12v13h-12zM589 1045h12v13h-12zM589 1058h12v12h-12zM601 1058h13v12h-13zM478 1070h12v13h-12zM527 1070h13v13h-13zM626 1160h12v12h-12zM281 1185h12v13h-12zM416 1223h13v13h-13z"/>
<path fill="rgb(91,91,255)" d="M367 1045h12v13h-12zM564 1058h13v12h-13zM614 1058h12v12h-12zM293 1070h13v13h-13zM355 1070h12v13h-12zM441 1070h12v13h-12zM552 1070h12v13h-12zM466 1096h12v13h-12zM601 1109h13v12h-13zM564 1134h13v13h-13zM577 1134h12v13h-12zM614 1147h12v13h-12zM453 1160h13v12h-13zM416 1185h13v13h-13zM293 1198h13v13h-13z"/>
<path fill="rgb(73,73,255)" d="M367 994h12v13h-12zM367 1007h12v12h-12zM601 1007h13v12h-13zM404 1032h12v13h-12zM540 1070h12v13h-12zM306 1083h12v13h-12zM675 1109h12v12h-12zM379 1172h13v13h-13zM306 1185h12v13h-12z"/>
<path fill="rgb(55,55,255)" d="M392 1019h12v13h-12zM564 1032h13v13h-13zM379 1058h13v12h-13zM527 1083h13v13h-13zM342 1096h13v13h-13zM577 1096h12v13h-12zM281 1236h12v13h-12z"/>
<path fill="rgb(36,36,255)" d="M564 981h13v13h-13zM355 1058h12v12h-12zM293 1185h13v13h-13z"/>
<path fill="rgb(18,18,255)" d="M564 968h13v13h-13zM367 1058h12v12h-12zM564 1070h13v13h-13zM577 1262h12v12h-12z"/>
</g>
<path d="M272.00 1478.25V1487.97" stroke="#000" stroke-width="2.22"/>
<text x="272.00" y="1520.75" text-anchor="middle">0.2</text>
<path d="M403.90 1478.25V1487.97" stroke="#000" stroke-width="2.22"/>
<text x="403.90" y="1520.75" text-anchor="middle">0.4</text>
<path d="M535.80 1478.25V1487.97" stroke="#000" stroke-width="2.22"/>
<text x="535.80" y="1520.75" text-anchor="middle">0.6</text>
<path d="M667.70 1478.25V1487.97" stroke="#000" stroke-width="2.22"/>
<text x="667.70" y="1520.75" text-anchor="middle">0.8</text>
<path d="M160.00 947.60H170.00" stroke="#000" stroke-width="2.22"/>
<text x="150.60" y="959.00" text-anchor="end">0.8</text>
<path d="M160.00 1087.15H170.00" stroke="#000" stroke-width="2.22"/>
<text x="150.60" y="1098.55" text-anchor="end">0.6</text>
<path d="M160.00 1226.70H170.00" stroke="#000" stroke-width="2.22"/>
<text x="150.60" y="1238.10" text-anchor="end">0.4</text>
<path d="M160.00 1366.25H170.00" stroke="#000" stroke-width="2.22"/>
<text x="150.60" y="1377.65" text-anchor="end">0.2</text>
<text x="479.30" y="1561.00" text-anchor="middle">x</text>
<text x="84.00" y="1161.30" text-anchor="middle" transform="rotate(-90 84.00 1161.30)">y</text>
<g shape-rendering="crispEdges">
<path fill="rgb(249,249,255)" d="M1210 841h13v13h-13zM1223 841h12v13h-12zM1247 841h13v13h-13zM1210 854h13v12h-13zM1247 866h13v13h-13zM1420 866h12v13h-12zM1136 879h13v13h-13zM1149 879h12v13h-12zM1297 879h12v13h-12zM1444 879h13v13h-13zM1112 892h12v13h-12zM1124 892h12v13h-12zM1210 892h13v13h-13zM1247 892h13v13h-13zM1112 905h12v12h-12zM1161 905h12v12h-12zM1210 905h13v12h-13zM1099 917h13v13h-13zM1149 917h12v13h-12zM1186 917h12v13h-12zM1260 917h12v13h-12zM1395 917h12v13h-12zM1099 930h13v13h-13zM1124 930h12v13h-12zM1136 930h13v13h-13zM1198 930h12v13h-12zM1272 930h12v13h-12zM1099 943h13v13h-13zM1124 943h12v13h-12zM1186 943h12v13h-12zM1210 943h13v13h-13zM1223 943h12v13h-12zM1247 943h13v13h-13zM1297 943h12v13h-12zM1099 956h13v12h-13zM1112 956h12v12h-12zM1124 956h12v12h-12zM1136 956h13v12h-13zM1149 956h12v12h-12zM1235 956h12v12h-12zM1272 956h12v12h-12zM1284 956h13v12h-13zM1297 956h12v12h-12zM1346 956h12v12h-12zM1099 968h13v13h-13zM1112 968h12v13h-12zM1136 968h13v13h-13zM1149 968h12v13h-12zM1198 968h12v13h-12zM1235 968h12v13h-12zM1260 968h12v13h-12zM1284 968h13v13h-13zM1469 968h12v13h-12zM1112 981h12v13h-12zM1124 981h12v13h-12zM1136 981h13v13h-13zM1173 981h13v13h-13zM1260 981h12v13h-12zM1272 981h12v13h-12zM1112 994h12v13h-12zM1124 994h12v13h-12zM1149 994h12v13h-12zM1161 994h12v13h-12zM1186 994h12v13h-12zM1223 994h12v13h-12zM1272 994h12v13h-12zM1346 994h12v13h-12zM1112 1007h12v12h-12zM1124 1007h12v12h-12zM1161 1007h12v12h-12zM1210 1007h13v12h-13zM1247 1007h13v12h-13zM1260 1007h12v12h-12zM1272 1007h12v12h-12zM1346 1007h12v12h-12zM1087 1019h12v13h-12zM1099 1019h13v13h-13zM1124 1019h12v13h-12zM1136 1019h13v13h-13zM1149 1019h12v13h-12zM1161 1019h12v13h-12zM1173 1019h13v13h-13zM1186 1019h12v13h-12zM1198 1019h12v13h-12zM1210 1019h13v13h-13zM1223 1019h12v13h-12zM1235 1019h12v13h-12zM1260 1019h12v13h-12zM1371 1019h12v13h-12zM1383 1019h12v13h-12zM1469 1019h12v13h-12zM1494 1019h12v13h-12zM1075 1032h12v13h-12zM1087 1032h12v13h-12zM1099 1032h13v13h-13zM1112 1032h12v13h-12zM1124 1032h12v13h-12zM1149 1032h12v13h-12zM1210 1032h13v13h-13zM1247 1032h13v13h-13zM1297 1032h12v13h-12zM1309 1032h12v13h-12zM1371 1032h12v13h-12zM1001 1045h12v13h-12zM1063 1045h12v13h-12zM1087 1045h12v13h-12zM1099 1045h13v13h-13zM1124 1045h12v13h-12zM1136 1045h13v13h-13zM1149 1045h12v13h-12zM1173 1045h13v13h-13zM1186 1045h12v13h-12zM1223 1045h12v13h-12zM1235 1045h12v13h-12zM1260 1045h12v13h-12zM1481 1045h13v13h-13zM1038 1058h12v12h-12zM1075 1058h12v12h-12zM1087 1058h12v12h-12zM1099 1058h13v12h-13zM1112 1058h12v12h-12zM1124 1058h12v12h-12zM1161 1058h12v12h-12zM1173 1058h13v12h-13zM1223 1058h12v12h-12zM1235 1058h12v12h-12zM1358 1058h13v12h-13zM1383 1058h12v12h-12zM1075 1070h12v13h-12zM1099 1070h13v13h-13zM1112 1070h12v13h-12zM1124 1070h12v13h-12zM1149 1070h12v13h-12zM1210 1070h13v13h-13zM1272 1070h12v13h-12zM1284 1070h13v13h-13zM1309 1070h12v13h-12zM1457 1070h12v13h-12zM1013 1083h13v13h-13zM1026 1083h12v13h-12zM1038 1083h12v13h-12zM1063 1083h12v13h-12zM1075 1083h12v13h-12zM1112 1083h12v13h-12zM1149 1083h12v13h-12zM1173 1083h13v13h-13zM1223 1083h12v13h-12zM1272 1083h12v13h-12zM1284 1083h13v13h-13zM1297 1083h12v13h-12zM1371 1083h12v13h-12zM1395 1083h12v13h-12zM1457 1083h12v13h-12zM1531 1083h12v13h-12zM1013 1096h13v13h-13zM1050 1096h13v13h-13zM1087 1096h12v13h-12zM1099 1096h13v13h-13zM1136 1096h13v13h-13zM1149 1096h12v13h-12zM1198 1096h12v13h-12zM1210 1096h13v13h-13zM1223 1096h12v13h-12zM1247 1096h13v13h-13zM1383 1096h12v13h-12zM1395 1096h12v13h-12zM1469 1096h12v13h-12zM1531 1096h12v13h-12zM1013 1109h13v12h-13zM1038 1109h12v12h-12zM1050 1109h13v12h-13zM1075 1109h12v12h-12zM1087 1109h12v12h-12zM1099 1109h13v12h-13zM1136 1109h13v12h-13zM1149 1109h12v12h-12zM1161 1109h12v12h-12zM1186 1109h12v12h-12zM1198 1109h12v12h-12zM1235 1109h12v12h-12zM1260 1109h12v12h-12zM1272 1109h12v12h-12zM1284 1109h13v12h-13zM1297 1109h12v12h-12zM1321 1109h13v12h-13zM1395 1109h12v12h-12zM1444 1109h13v12h-13zM1469 1109h12v12h-12zM1481 1109h13v12h-13zM1531 1109h12v12h-12zM1026 1121h12v13h-12zM1038 1121h12v13h-12zM1050 1121h13v13h-13zM1063 1121h12v13h-12zM1087 1121h12v13h-12zM1124 1121h12v13h-12zM1136 1121h13v13h-13zM1198 1121h12v13h-12zM1223 1121h12v13h-12zM1235 1121h12v13h-12zM1247 1121h13v13h-13zM1260 1121h12v13h-12zM1272 1121h12v13h-12zM1297 1121h12v13h-12zM1346 1121h12v13h-12zM1358 1121h13v13h-13zM1371 1121h12v13h-12zM1395 1121h12v13h-12zM1407 1121h13v13h-13zM1481 1121h13v13h-13zM1531 1121h12v13h-12zM1001 1134h12v13h-12zM1038 1134h12v13h-12zM1050 1134h13v13h-13zM1063 1134h12v13h-12zM1112 1134h12v13h-12zM1124 1134h12v13h-12zM1161 1134h12v13h-12zM1173 1134h13v13h-13zM1186 1134h12v13h-12zM1198 1134h12v13h-12zM1223 1134h12v13h-12zM1235 1134h12v13h-12zM1260 1134h12v13h-12zM1284 1134h13v13h-13zM1297 1134h12v13h-12zM1334 1134h12v13h-12zM1346 1134h12v13h-12zM1358 1134h13v13h-13zM1383 1134h12v13h-12zM1395 1134h12v13h-12zM1444 1134h13v13h-13zM1494 1134h12v13h-12zM1013 1147h13v13h-13zM1026 1147h12v13h-12zM1063 1147h12v13h-12zM1099 1147h13v13h-13zM1124 1147h12v13h-12zM1136 1147h13v13h-13zM1161 1147h12v13h-12zM1173 1147h13v13h-13zM1186 1147h12v13h-12zM1198 1147h12v13h-12zM1210 1147h13v13h-13zM1223 1147h12v13h-12zM1235 1147h12v13h-12zM1247 1147h13v13h-13zM1272 1147h12v13h-12zM1284 1147h13v13h-13zM1321 1147h13v13h-13zM1334 1147h12v13h-12zM1358 1147h13v13h-13zM1371 1147h12v13h-12zM1383 1147h12v13h-12zM1407 1147h13v13h-13zM1432 1147h12v13h-12zM1481 1147h13v13h-13zM1531 1147h12v13h-12zM989 1160h12v12h-12zM1001 1160h12v12h-12zM1013 1160h13v12h-13zM1050 1160h13v12h-13zM1063 1160h12v12h-12zM1075 1160h12v12h-12zM1149 1160h12v12h-12zM1161 1160h12v12h-12zM1173 1160h13v12h-13zM1186 1160h12v12h-12zM1223 1160h12v12h-12zM1247 1160h13v12h-13zM1260 1160h12v12h-12zM1272 1160h12v12h-12zM1284 1160h13v12h-13zM1297 1160h12v12h-12zM1334 1160h12v12h-12zM1346 1160h12v12h-12zM1407 1160h13v12h-13zM1432 1160h12v12h-12zM1444 1160h13v12h-13zM1469 1160h12v12h-12zM1481 1160h13v12h-13zM1494 1160h12v12h-12zM1518 1160h13v12h-13zM1531 1160h12v12h-12zM1087 1172h12v13h-12zM1099 1172h13v13h-13zM1124 1172h12v13h-12zM1136 1172h13v13h-13zM1149 1172h12v13h-12zM1161 1172h12v13h-12zM1173 1172h13v13h-13zM1186 1172h12v13h-12zM1223 1172h12v13h-12zM1260 1172h12v13h-12zM1358 1172h13v13h-13zM1444 1172h13v13h-13zM1457 1172h12v13h-12zM1481 1172h13v13h-13zM1506 1172h12v13h-12zM1531 1172h12v13h-12zM1013 1185h13v13h-13zM1087 1185h12v13h-12zM1099 1185h13v13h-13zM1112 1185h12v13h-12zM1136 1185h13v13h-13zM1149 1185h12v13h-12zM1161 1185h12v13h-12zM1210 1185h13v13h-13zM1235 1185h12v13h-12zM1260 1185h12v13h-12zM1309 1185h12v13h-12zM1334 1185h12v13h-12zM1371 1185h12v13h-12zM1383 1185h12v13h-12zM1444 1185h13v13h-13zM1457 1185h12v13h-12zM1481 1185h13v13h-13zM1506 1185h12v13h-12zM1531 1185h12v13h-12zM976 1198h13v13h-13zM1013 1198h13v13h-13zM1050 1198h13v13h-13zM1136 1198h13v13h-13zM1235 1198h12v13h-12zM1309 1198h12v13h-12zM1346 1198h12v13h-12zM1358 1198h13v13h-13zM1432 1198h12v13h-12zM976 1211h13v12h-13zM1013 1211h13v12h-13zM1050 1211h13v12h-13zM1136 1211h13v12h-13zM1149 1211h12v12h-12zM1161 1211h12v12h-12zM1247 1211h13v12h-13zM1309 1211h12v12h-12zM1334 1211h12v12h-12zM1346 1211h12v12h-12zM1383 1211h12v12h-12zM1395 1211h12v12h-12zM1407 1211h13v12h-13zM1420 1211h12v12h-12zM1444 1211h13v12h-13zM1457 1211h12v12h-12zM1469 1211h12v12h-12zM976 1223h13v13h-13zM989 1223h12v13h-12zM1001 1223h12v13h-12zM1013 1223h13v13h-13zM1038 1223h12v13h-12zM1075 1223h12v13h-12zM1112 1223h12v13h-12zM1321 1223h13v13h-13zM1334 1223h12v13h-12zM1358 1223h13v13h-13zM1383 1223h12v13h-12zM1432 1223h12v13h-12zM1444 1223h13v13h-13zM1506 1223h12v13h-12zM976 1236h13v13h-13zM1235 1236h12v13h-12zM1272 1236h12v13h-12zM1297 1236h12v13h-12zM1309 1236h12v13h-12zM1321 1236h13v13h-13zM1346 1236h12v13h-12zM1358 1236h13v13h-13zM1371 1236h12v13h-12zM1395 1236h12v13h-12zM1407 1236h13v13h-13zM1469 1236h12v13h-12zM976 1249h13v13h-13zM1001 1249h12v13h-12zM1013 1249h13v13h-13zM1038 1249h12v13h-12zM1198 1249h12v13h-12zM1210 1249h13v13h-13zM1260 1249h12v13h-12zM1272 1249h12v13h-12zM1284 1249h13v13h-13zM1297 1249h12v13h-12zM1321 1249h13v13h-13zM1358 1249h13v13h-13zM1395 1249h12v13h-12zM1407 1249h13v13h-13zM1420 1249h12v13h-12zM989 1262h12v12h-12zM1001 1262h12v12h-12zM1124 1262h12v12h-12zM1149 1262h12v12h-12zM1198 1262h12v12h-12zM1247 1262h13v12h-13zM1284 1262h13v12h-13zM1297 1262h12v12h-12zM1334 1262h12v12h-12zM1346 1262h12v12h-12zM1358 1262h13v12h-13zM1383 1262h12v12h-12zM1395 1262h12v12h-12zM1407 1262h13v12h-13zM1432 1262h12v12h-12zM989 1274h12v13h-12zM1136 1274h13v13h-13zM1149 1274h12v13h-12zM1210 1274h13v13h-13zM1247 1274h13v13h-13zM1260 1274h12v13h-12zM1272 1274h12v13h-12zM1309 1274h12v13h-12zM1321 1274h13v13h-13zM1334 1274h12v13h-12zM1383 1274h12v13h-12zM1395 1274h12v13h-12zM1407 1274h13v13h-13zM1420 1274h12v13h-12zM976 1287h13v13h-13zM1136 1287h13v13h-13zM1223 1287h12v13h-12zM1235 1287h12v13h-12zM1247 1287h13v13h-13zM1309 1287h12v13h-12zM1321 1287h13v13h-13zM1358 1287h13v13h-13zM1420 1287h12v13h-12zM1284 1300h13v13h-13zM1321 1300h13v13h-13zM1334 1300h12v13h-12zM1346 1300h12v13h-12zM1358 1300h13v13h-13zM1371 1300h12v13h-12zM1383 1300h12v13h-12zM1407 1300h13v13h-13zM1173 1313h13v12h-13zM1260 1313h12v12h-12zM1309 1313h12v12h-12zM1321 1313h13v12h-13zM1358 1313h13v12h-13zM964 1325h12v13h-12zM1247 1325h13v13h-13zM1260 1325h12v13h-12zM1284 1325h13v13h-13zM1297 1325h12v13h-12zM1321 1325h13v13h-13zM1334 1325h12v13h-12zM1407 1325h13v13h-13zM1420 1325h12v13h-12zM952 1338h12v13h-12zM1260 1338h12v13h-12zM1272 1338h12v13h-12zM1297 1338h12v13h-12zM1383 1338h12v13h-12zM1395 1338h12v13h-12zM1457 1338h12v13h-12zM1260 1351h12v13h-12zM1284 1351h13v13h-13zM1297 1351h12v13h-12zM1321 1351h13v13h-13zM1420 1351h12v13h-12zM939 1364h13v12h-13zM1198 1364h12v12h-12zM1210 1364h13v12h-13zM1223 1364h12v12h-12zM1235 1364h12v12h-12zM1247 1364h13v12h-13zM1260 1364h12v12h-12zM1210 1376h13v13h-13zM1223 1376h12v13h-12zM1284 1376h13v13h-13zM1124 1389h12v13h-12zM1210 1389h13v13h-13zM1223 1389h12v13h-12zM1235 1389h12v13h-12zM1272 1389h12v13h-12zM1334 1389h12v13h-12zM1358 1389h13v13h-13zM927 1402h12v13h-12zM976 1402h13v13h-13zM989 1402h12v13h-12zM1087 1402h12v13h-12zM1099 1402h13v13h-13zM1124 1402h12v13h-12zM1136 1402h13v13h-13zM1149 1402h12v13h-12zM1161 1402h12v13h-12zM1173 1402h13v13h-13zM1186 1402h12v13h-12zM1198 1402h12v13h-12zM927 1415h12v12h-12zM939 1415h13v12h-13zM952 1415h12v12h-12zM976 1415h13v12h-13zM989 1415h12v12h-12zM1075 1415h12v12h-12zM1087 1415h12v12h-12zM1149 1415h12v12h-12zM1161 1415h12v12h-12zM1173 1415h13v12h-13zM1260 1415h12v12h-12zM1272 1415h12v12h-12zM952 1427h12v13h-12zM964 1427h12v13h-12zM989 1427h12v13h-12zM1075 1427h12v13h-12zM1149 1427h12v13h-12zM1161 1427h12v13h-12zM1173 1427h13v13h-13zM989 1440h12v13h-12zM1001 1440h12v13h-12zM1026 1440h12v13h-12zM1050 1440h13v13h-13zM1063 1440h12v13h-12zM1075 1440h12v13h-12zM1099 1440h13v13h-13zM1112 1440h12v13h-12zM1124 1440h12v13h-12zM939 1453h13v13h-13zM976 1453h13v13h-13zM989 1453h12v13h-12zM1001 1453h12v13h-12zM1136 1453h13v13h-13zM1149 1453h12v13h-12z"/>
<path fill="rgb(237,237,255)" d="M1297 866h12v13h-12zM1112 917h12v13h-12zM1235 930h12v13h-12zM1136 994h13v13h-13zM1173 994h13v13h-13zM1099 1007h13v12h-13zM1136 1007h13v12h-13zM1173 1007h13v12h-13zM1247 1019h13v13h-13zM1161 1032h12v13h-12zM1173 1032h13v13h-13zM1112 1045h12v13h-12zM1198 1045h12v13h-12zM1210 1045h13v13h-13zM1136 1058h13v12h-13zM1149 1058h12v12h-12zM1186 1058h12v12h-12zM1198 1058h12v12h-12zM1531 1058h12v12h-12zM1063 1070h12v13h-12zM1087 1070h12v13h-12zM1136 1070h13v13h-13zM1161 1070h12v13h-12zM1223 1070h12v13h-12zM1235 1070h12v13h-12zM1050 1083h13v13h-13zM1124 1083h12v13h-12zM1136 1083h13v13h-13zM1186 1083h12v13h-12zM1198 1083h12v13h-12zM1407 1083h13v13h-13zM1161 1096h12v13h-12zM1173 1096h13v13h-13zM1235 1096h12v13h-12zM1321 1096h13v13h-13zM1063 1109h12v12h-12zM1112 1109h12v12h-12zM1124 1109h12v12h-12zM1210 1109h13v12h-13zM1223 1109h12v12h-12zM1247 1109h13v12h-13zM1346 1109h12v12h-12zM1075 1121h12v13h-12zM1099 1121h13v13h-13zM1112 1121h12v13h-12zM1149 1121h12v13h-12zM1186 1121h12v13h-12zM1334 1121h12v13h-12zM1075 1134h12v13h-12zM1087 1134h12v13h-12zM1136 1134h13v13h-13zM1149 1134h12v13h-12zM1210 1134h13v13h-13zM1247 1134h13v13h-13zM1309 1134h12v13h-12zM1321 1134h13v13h-13zM1001 1147h12v13h-12zM1050 1147h13v13h-13zM1149 1147h12v13h-12zM1297 1147h12v13h-12zM1038 1160h12v12h-12zM1087 1160h12v12h-12zM1099 1160h13v12h-13zM1198 1160h12v12h-12zM1210 1160h13v12h-13zM1235 1160h12v12h-12zM1309 1160h12v12h-12zM1038 1172h12v13h-12zM1050 1172h13v13h-13zM1063 1172h12v13h-12zM1075 1172h12v13h-12zM1198 1172h12v13h-12zM1210 1172h13v13h-13zM1247 1172h13v13h-13zM1272 1172h12v13h-12zM1284 1172h13v13h-13zM1297 1172h12v13h-12zM1309 1172h12v13h-12zM1321 1172h13v13h-13zM1420 1172h12v13h-12zM1026 1185h12v13h-12zM1038 1185h12v13h-12zM1050 1185h13v13h-13zM1063 1185h12v13h-12zM1186 1185h12v13h-12zM1198 1185h12v13h-12zM1247 1185h13v13h-13zM1284 1185h13v13h-13zM1358 1185h13v13h-13zM1432 1185h12v13h-12zM989 1198h12v13h-12zM1099 1198h13v13h-13zM1112 1198h12v13h-12zM1124 1198h12v13h-12zM1173 1198h13v13h-13zM1186 1198h12v13h-12zM1198 1198h12v13h-12zM1223 1198h12v13h-12zM1247 1198h13v13h-13zM1321 1198h13v13h-13zM1334 1198h12v13h-12zM1371 1198h12v13h-12zM1383 1198h12v13h-12zM1001 1211h12v12h-12zM1026 1211h12v12h-12zM1063 1211h12v12h-12zM1075 1211h12v12h-12zM1087 1211h12v12h-12zM1099 1211h13v12h-13zM1112 1211h12v12h-12zM1124 1211h12v12h-12zM1186 1211h12v12h-12zM1198 1211h12v12h-12zM1223 1211h12v12h-12zM1235 1211h12v12h-12zM1321 1211h13v12h-13zM1358 1211h13v12h-13zM1371 1211h12v12h-12zM1531 1211h12v12h-12zM1050 1223h13v13h-13zM1149 1223h12v13h-12zM1198 1223h12v13h-12zM1247 1223h13v13h-13zM1297 1223h12v13h-12zM1309 1223h12v13h-12zM1371 1223h12v13h-12zM1395 1223h12v13h-12zM1407 1223h13v13h-13zM1001 1236h12v13h-12zM1013 1236h13v13h-13zM1050 1236h13v13h-13zM1087 1236h12v13h-12zM1161 1236h12v13h-12zM1173 1236h13v13h-13zM1260 1236h12v13h-12zM1383 1236h12v13h-12zM1420 1236h12v13h-12zM1112 1249h12v13h-12zM1124 1249h12v13h-12zM1173 1249h13v13h-13zM1223 1249h12v13h-12zM1247 1249h13v13h-13zM1026 1262h12v12h-12zM1038 1262h12v12h-12zM1136 1262h13v12h-13zM1173 1262h13v12h-13zM1235 1262h12v12h-12zM1260 1262h12v12h-12zM1272 1262h12v12h-12zM1309 1262h12v12h-12zM1321 1262h13v12h-13zM1001 1274h12v13h-12zM1013 1274h13v13h-13zM1186 1274h12v13h-12zM1198 1274h12v13h-12zM1223 1274h12v13h-12zM1346 1274h12v13h-12zM1358 1274h13v13h-13zM1371 1274h12v13h-12zM1013 1287h13v13h-13zM1161 1287h12v13h-12zM1186 1287h12v13h-12zM1198 1287h12v13h-12zM1260 1287h12v13h-12zM1284 1287h13v13h-13zM976 1300h13v13h-13zM1112 1300h12v13h-12zM1124 1300h12v13h-12zM1210 1300h13v13h-13zM1223 1300h12v13h-12zM1260 1300h12v13h-12zM1038 1313h12v12h-12zM1112 1313h12v12h-12zM1161 1313h12v12h-12zM1198 1313h12v12h-12zM1235 1313h12v12h-12zM1272 1313h12v12h-12zM1284 1313h13v12h-13zM1297 1313h12v12h-12zM1346 1313h12v12h-12zM1013 1325h13v13h-13zM1198 1325h12v13h-12zM1210 1325h13v13h-13zM1223 1325h12v13h-12zM964 1338h12v13h-12zM1063 1338h12v13h-12zM1124 1338h12v13h-12zM1198 1338h12v13h-12zM1210 1338h13v13h-13zM1223 1338h12v13h-12zM1235 1338h12v13h-12zM1001 1351h12v13h-12zM1075 1351h12v13h-12zM1198 1351h12v13h-12zM1235 1351h12v13h-12zM1075 1364h12v12h-12zM1173 1364h13v12h-13zM1272 1364h12v12h-12zM1284 1364h13v12h-13zM939 1376h13v13h-13zM1038 1376h12v13h-12zM1186 1376h12v13h-12zM1198 1376h12v13h-12zM1247 1376h13v13h-13zM939 1389h13v13h-13zM1075 1389h12v13h-12zM1087 1389h12v13h-12zM1099 1389h13v13h-13zM1149 1389h12v13h-12zM1161 1389h12v13h-12zM1173 1389h13v13h-13zM1198 1389h12v13h-12zM964 1402h12v13h-12zM1001 1402h12v13h-12zM1063 1402h12v13h-12zM1075 1402h12v13h-12zM1001 1415h12v12h-12zM927 1427h12v13h-12zM976 1427h13v13h-13zM1001 1427h12v13h-12zM1013 1440h13v13h-13zM1038 1440h12v13h-12zM952 1453h12v13h-12z"/>
<path fill="rgb(223,223,255)" d="M1087 956h12v12h-12zM1161 1045h12v13h-12zM1173 1070h13v13h-13zM1112 1096h12v13h-12zM1124 1096h12v13h-12zM1173 1109h13v12h-13zM1173 1121h13v13h-13zM1038 1147h12v13h-12zM1112 1160h12v12h-12zM1136 1160h13v12h-13zM1321 1160h13v12h-13zM1334 1172h12v13h-12zM1223 1185h12v13h-12zM1407 1185h13v13h-13zM1026 1198h12v13h-12zM1038 1198h12v13h-12zM1149 1198h12v13h-12zM1161 1198h12v13h-12zM1210 1198h13v13h-13zM1284 1198h13v13h-13zM1297 1198h12v13h-12zM1210 1211h13v12h-13zM1272 1211h12v12h-12zM1284 1211h13v12h-13zM1297 1211h12v12h-12zM1099 1223h13v13h-13zM1124 1223h12v13h-12zM1136 1223h13v13h-13zM1161 1223h12v13h-12zM1173 1223h13v13h-13zM1210 1223h13v13h-13zM1223 1223h12v13h-12zM1284 1223h13v13h-13zM1038 1236h12v13h-12zM1063 1236h12v13h-12zM1112 1236h12v13h-12zM1136 1236h13v13h-13zM1149 1236h12v13h-12zM1186 1236h12v13h-12zM1198 1236h12v13h-12zM1210 1236h13v13h-13zM1223 1236h12v13h-12zM1284 1236h13v13h-13zM1334 1236h12v13h-12zM1087 1249h12v13h-12zM1235 1249h12v13h-12zM1334 1249h12v13h-12zM1346 1249h12v13h-12zM1013 1262h13v12h-13zM1050 1262h13v12h-13zM1075 1262h12v12h-12zM1112 1262h12v12h-12zM1161 1262h12v12h-12zM1223 1262h12v12h-12zM1371 1262h12v12h-12zM1026 1274h12v13h-12zM1075 1274h12v13h-12zM1124 1274h12v13h-12zM1173 1274h13v13h-13zM1235 1274h12v13h-12zM989 1287h12v13h-12zM1001 1287h12v13h-12zM1210 1287h13v13h-13zM1334 1287h12v13h-12zM1346 1287h12v13h-12zM989 1300h12v13h-12zM1026 1300h12v13h-12zM1099 1300h13v13h-13zM1198 1300h12v13h-12zM1235 1300h12v13h-12zM1026 1313h12v12h-12zM1050 1313h13v12h-13zM1087 1313h12v12h-12zM1186 1313h12v12h-12zM1210 1313h13v12h-13zM976 1325h13v13h-13zM1026 1325h12v13h-12zM1099 1325h13v13h-13zM1136 1325h13v13h-13zM1186 1325h12v13h-12zM1235 1325h12v13h-12zM976 1338h13v13h-13zM1075 1338h12v13h-12zM1136 1338h13v13h-13zM952 1351h12v13h-12zM1026 1351h12v13h-12zM1063 1351h12v13h-12zM1112 1351h12v13h-12zM1136 1351h13v13h-13zM1186 1351h12v13h-12zM1223 1351h12v13h-12zM1001 1364h12v12h-12zM1050 1364h13v12h-13zM1063 1364h12v12h-12zM1087 1364h12v12h-12zM1099 1364h13v12h-13zM1136 1364h13v12h-13zM989 1376h12v13h-12zM1001 1376h12v13h-12zM1063 1376h12v13h-12zM1136 1376h13v13h-13zM1235 1376h12v13h-12zM976 1389h13v13h-13zM989 1389h12v13h-12zM1050 1389h13v13h-13zM1063 1389h12v13h-12zM1186 1389h12v13h-12zM1038 1415h12v12h-12zM1050 1415h13v12h-13zM1063 1415h12v12h-12zM1124 1415h12v12h-12zM939 1427h13v13h-13zM1063 1427h12v13h-12zM976 1440h13v13h-13z"/>
<path fill="rgb(210,210,255)" d="M1186 1070h12v13h-12zM1161 1121h12v13h-12zM1099 1134h13v13h-13zM1124 1160h12v12h-12zM1321 1185h13v13h-13zM1346 1185h12v13h-12zM1063 1198h12v13h-12zM1087 1198h12v13h-12zM1260 1211h12v12h-12zM1026 1223h12v13h-12zM1087 1223h12v13h-12zM1186 1223h12v13h-12zM1260 1223h12v13h-12zM1026 1236h12v13h-12zM1099 1249h13v13h-13zM1161 1249h12v13h-12zM1087 1262h12v12h-12zM1099 1262h13v12h-13zM1210 1262h13v12h-13zM1161 1274h12v13h-12zM1026 1287h12v13h-12zM1038 1287h12v13h-12zM1112 1287h12v13h-12zM1173 1287h13v13h-13zM1297 1287h12v13h-12zM1013 1300h13v13h-13zM1038 1300h12v13h-12zM1075 1300h12v13h-12zM1136 1300h13v13h-13zM1149 1300h12v13h-12zM1161 1300h12v13h-12zM1173 1300h13v13h-13zM1186 1300h12v13h-12zM1272 1300h12v13h-12zM976 1313h13v12h-13zM1099 1313h13v12h-13zM1136 1313h13v12h-13zM1038 1325h12v13h-12zM1050 1325h13v13h-13zM1063 1325h12v13h-12zM1075 1325h12v13h-12zM1124 1325h12v13h-12zM989 1338h12v13h-12zM1013 1338h13v13h-13zM1038 1338h12v13h-12zM1087 1338h12v13h-12zM964 1351h12v13h-12zM1013 1351h13v13h-13zM1099 1351h13v13h-13zM1124 1351h12v13h-12zM1149 1351h12v13h-12zM1173 1351h13v13h-13zM1210 1351h13v13h-13zM1186 1364h12v12h-12zM1050 1376h13v13h-13zM1001 1389h12v13h-12zM1136 1389h13v13h-13zM1013 1402h13v13h-13zM1026 1402h12v13h-12z"/>
<path fill="rgb(198,198,255)" d="M1075 1198h12v13h-12zM1260 1198h12v13h-12zM1272 1198h12v13h-12zM1173 1211h13v12h-13zM1235 1223h12v13h-12zM1272 1223h12v13h-12zM1075 1236h12v13h-12zM1026 1249h12v13h-12zM1050 1249h13v13h-13zM1136 1249h13v13h-13zM1186 1262h12v12h-12zM1038 1274h12v13h-12zM1063 1274h12v13h-12zM1112 1274h12v13h-12zM1124 1287h12v13h-12zM1149 1287h12v13h-12zM1001 1300h12v13h-12zM1087 1300h12v13h-12zM1247 1300h13v13h-13zM1124 1313h12v12h-12zM1223 1313h12v12h-12zM1247 1313h13v12h-13zM1087 1325h12v13h-12zM1149 1325h12v13h-12zM1161 1325h12v13h-12zM1173 1325h13v13h-13zM1272 1325h12v13h-12zM1026 1338h12v13h-12zM1099 1338h13v13h-13zM1112 1338h12v13h-12zM1149 1338h12v13h-12zM1173 1338h13v13h-13zM1186 1338h12v13h-12zM1247 1338h13v13h-13zM1087 1351h12v13h-12zM1161 1351h12v13h-12zM1013 1364h13v12h-13zM1112 1364h12v12h-12zM1124 1364h12v12h-12zM1075 1376h12v13h-12zM1013 1389h13v13h-13zM1026 1389h12v13h-12zM939 1440h13v13h-13z"/>
<path fill="rgb(185,185,255)" d="M1087 1147h12v13h-12zM1038 1211h12v12h-12zM1099 1236h13v13h-13zM1149 1249h12v13h-12zM1050 1274h13v13h-13zM1050 1287h13v13h-13zM1063 1287h12v13h-12zM1050 1300h13v13h-13zM989 1313h12v12h-12zM1001 1313h12v12h-12zM1013 1313h13v12h-13zM1063 1313h12v12h-12zM1075 1313h12v12h-12zM989 1325h12v13h-12zM1112 1325h12v13h-12zM1161 1338h12v13h-12zM976 1351h13v13h-13zM989 1351h12v13h-12zM952 1364h12v12h-12zM976 1364h13v12h-13zM1149 1364h12v12h-12zM1161 1364h12v12h-12zM976 1376h13v13h-13zM1149 1376h12v13h-12zM1161 1376h12v13h-12zM1173 1376h13v13h-13zM939 1402h13v13h-13zM1038 1402h12v13h-12zM1050 1402h13v13h-13zM1013 1427h13v13h-13zM1038 1427h12v13h-12z"/>
<path fill="rgb(171,171,255)" d="M1063 1223h12v13h-12zM1124 1236h12v13h-12zM1063 1249h12v13h-12zM1063 1262h12v12h-12zM1087 1274h12v13h-12zM1099 1274h13v13h-13zM1075 1287h12v13h-12zM1087 1287h12v13h-12zM1063 1300h12v13h-12zM1149 1313h12v12h-12zM1001 1325h12v13h-12zM1001 1338h12v13h-12zM1050 1338h13v13h-13zM1050 1351h13v13h-13zM989 1364h12v12h-12zM1038 1364h12v12h-12zM952 1376h12v13h-12zM1013 1376h13v13h-13zM1026 1376h12v13h-12zM1087 1376h12v13h-12zM1099 1376h13v13h-13zM1112 1376h12v13h-12zM1038 1389h12v13h-12zM1050 1427h13v13h-13z"/>
<path fill="rgb(157,157,255)" d="M1099 1287h13v13h-13zM1026 1364h12v12h-12zM1026 1415h12v12h-12zM1026 1427h12v13h-12zM927 1453h12v13h-12zM927 1466h12v12h-12z"/>
<path fill="rgb(143,143,255)" d="M1075 1249h12v13h-12zM1038 1351h12v13h-12zM964 1364h12v12h-12zM964 1389h12v13h-12zM952 1402h12v13h-12z"/>
<path fill="rgb(107,107,255)" d="M927 1440h12v13h-12z"/>
<path fill="rgb(0,0,255)" d="M964 1376h12v13h-12zM952 1389h12v13h-12z"/>
</g>
<path d="M1036.75 1478.25V1487.97" stroke="#000" stroke-width="2.22"/>
<text x="1036.75" y="1520.75" text-anchor="middle">0.2</text>
<path d="M1163.31 1478.25V1487.97" stroke="#000" stroke-width="2.22"/>
<text x="1163.31" y="1520.75" text-anchor="middle">0.4</text>
<path d="M1289.87 1478.25V1487.97" stroke="#000" stroke-width="2.22"/>
<text x="1289.87" y="1520.75" text-anchor="middle">0.6</text>
<path d="M1416.43 1478.25V1487.97" stroke="#000" stroke-width="2.22"/>
<text x="1416.43" y="1520.75" text-anchor="middle">0.8</text>
<path d="M1542.99 1478.25V1487.97" stroke="#000" stroke-width="2.22"/>
<text x="1542.99" y="1520.75" text-anchor="middle">1.0</text>
<path d="M917.00 1370.75H927.00" stroke="#000" stroke-width="2.22"/>
<text x="907.60" y="1382.15" text-anchor="end">0.2</text>
<path d="M917.00 1237.50H927.00" stroke="#000" stroke-width="2.22"/>
<text x="907.60" y="1248.90" text-anchor="end">0.4</text>
<path d="M917.00 1104.25H927.00" stroke="#000" stroke-width="2.22"/>
<text x="907.60" y="1115.65" text-anchor="end">0.6</text>
<path d="M917.00 971.00H927.00" stroke="#000" stroke-width="2.22"/>
<text x="907.60" y="982.40" text-anchor="end">0.8</text>
<text x="1235.00" y="1561.00" text-anchor="middle">width</text>
<text x="844.00" y="1162.70" text-anchor="middle" transform="rotate(-90 844.00 1162.70)">height</text>
</svg></body></html>
